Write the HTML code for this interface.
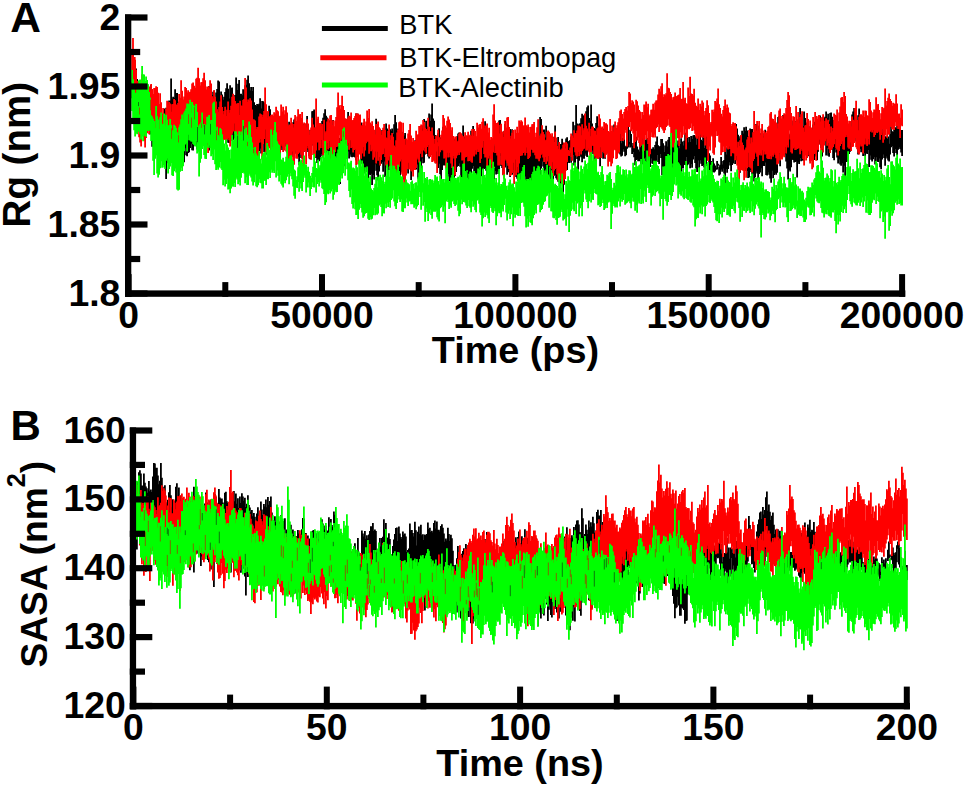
<!DOCTYPE html>
<html><head><meta charset="utf-8"><title>Rg and SASA</title>
<style>html,body{margin:0;padding:0;background:#fff}svg{display:block}</style>
</head><body>
<svg width="966" height="788" viewBox="0 0 966 788">
<rect width="966" height="788" fill="#fff"/>
<g fill="none" stroke-width="1.80" stroke-linecap="butt">
<path stroke="#000" d="M132.1 81.6V98.3M133.1 62.4V89.2M134.1 76.5V90.6M135.1 73.7V94.4M136.1 68.5V98.5M137.1 79.1V105.5M138.1 81.5V108.9M139.1 87.8V122.6M140.1 94V123.2M141.1 86.6V121.6M142.1 94.9V130M143.1 86.7V129.9M144.1 86.1V118.3M145.1 86.1V126.6M146.1 89.4V127.1M147.1 93.4V129.4M148.1 89.8V129.4M149.1 91.3V129.8M150.1 92V134.6M151.1 85.1V134.2M152.1 96.6V146.8M153.1 101.4V139.6M154.1 103.8V149.6M155.1 102.6V148.4M156.1 100.7V145.8M157.1 96.8V155.3M158.1 111.5V154.7M159.1 111.1V161.6M160.1 106.6V150.3M161.1 112.2V157.6M162.1 116.2V150M163.1 113.8V164.1M164.1 108.6V156.6M165.1 110.5V166.3M166.1 107.8V179M167.1 114V159.4M168.1 108.3V163.3M169.1 100.5V160.8M170.1 100.4V160.8M171.1 78.6V153.7M172.1 98.4V153.3M173.1 96.8V159.6M174.1 97.7V166.3M175.1 89.2V160.4M176.1 93V149.6M177.1 93V154.4M178.1 107.5V167.8M179.1 101.6V157M180.1 110.4V164.3M181.1 101.3V163.2M182.1 106.5V157.2M183.1 115.3V158.2M184.1 112.3V162.3M185.1 104.2V148.3M186.1 105.8V155.3M187.1 116.7V156.3M188.1 112.8V152.9M189.1 109.3V152.2M190.1 95.9V148M191.1 95.5V143.7M192.1 109.6V150.2M193.1 103.6V150.4M194.1 101.1V145.6M195.1 100.6V144.8M196.1 97.9V144.4M197.1 94.5V149.4M198.1 86.8V147.1M199.1 101.8V138.8M200.1 96.9V138.4M201.1 90.8V143.4M202.1 94V137.7M203.1 89.3V143.3M204.1 86V135.4M205.1 94.1V135.5M206.1 97.6V140.6M207.1 90.8V145.3M208.1 97.5V143.8M209.1 85.9V150.6M210.1 86.3V135.5M211.1 84.3V144.8M212.1 95V145.5M213.1 91.7V139.9M214.1 90.5V138.8M215.1 97.5V145.4M216.1 92.5V138.6M217.1 89V135.4M218.1 80.5V128.5M219.1 81.5V130.5M220.1 98.7V133.4M221.1 91.5V135.8M222.1 94.4V133.7M223.1 99.7V143.4M224.1 96.7V138.4M225.1 92.1V136M226.1 88.2V143.7M227.1 83.3V127.2M228.1 88.7V142.8M229.1 98.6V143M230.1 85.2V135.1M231.1 88V135.7M232.1 87.6V132.8M233.1 99V140.3M234.1 97.1V138.5M235.1 95.1V138.3M236.1 77.6V133.2M237.1 90V148.8M238.1 83.7V143.9M239.1 80.1V145.9M240.1 93.7V152M241.1 93.8V137.8M242.1 95.3V151.7M243.1 89.2V146.9M244.1 89.7V146.5M245.1 85.3V144.1M246.1 84.7V138.7M247.1 79.8V140.1M248.1 75.6V139M249.1 83.3V153.9M250.1 90.5V152.5M251.1 87.1V156.1M252.1 91.1V149.4M253.1 86.9V152.7M254.1 102.2V150.2M255.1 105V148.3M256.1 106.1V149.5M257.1 103.9V145.2M258.1 104.6V147.5M259.1 103.8V151.1M260.1 98.3V148.6M261.1 108.5V153.4M262.1 101V145M263.1 101.2V143.8M264.1 102.5V152.2M265.1 105.3V143.2M266.1 115.1V154.8M267.1 120.5V152M268.1 111.4V145.2M269.1 105.7V143.5M270.1 109.2V138.6M271.1 122.1V153.8M272.1 120.3V145.7M273.1 120.9V149.4M274.1 117.6V157.7M275.1 121.4V151.4M276.1 125V161.1M277.1 129.2V160.2M278.1 127V152.2M279.1 124.9V152.9M280.1 122.6V155.6M281.1 123.6V147.3M282.1 120.4V149.9M283.1 121.2V144.5M284.1 114.7V142.2M285.1 116.6V141.9M286.1 120.4V146.4M287.1 114.9V151.3M288.1 129V154.6M289.1 121.7V155.7M290.1 126V153.9M291.1 123.2V153.4M292.1 125V154.2M293.1 122.3V156.8M294.1 119.4V150.6M295.1 118.4V144.6M296.1 122.7V153.8M297.1 131.2V156.6M298.1 123.8V156.8M299.1 128.8V164.9M300.1 126.9V150.2M301.1 123.2V158.1M302.1 128V158.5M303.1 126.6V151.7M304.1 123.8V151.7M305.1 126.7V141.3M306.1 130.9V151.6M307.1 115.9V149.4M308.1 129.6V152.1M309.1 134.4V156.2M310.1 129.7V159.2M311.1 130.9V148.7M312.1 111.2V144.8M313.1 111V145.7M314.1 109.4V140.8M315.1 131.1V156.2M316.1 129.1V158.1M317.1 133.8V163M318.1 138.9V159.4M319.1 139.6V161.2M320.1 126.4V159.6M321.1 125V154.2M322.1 121.1V156.4M323.1 117.7V153.3M324.1 113.2V148M325.1 109.3V142.8M326.1 115.7V155.7M327.1 117.6V158M328.1 120.9V156.1M329.1 120.2V161.6M330.1 126.5V157.9M331.1 126.3V162.3M332.1 127.8V156.8M333.1 120V158.3M334.1 136.9V160.2M335.1 139.2V160.9M336.1 136.9V164.5M337.1 126.1V159.7M338.1 131.4V163.7M339.1 138V177.5M340.1 141.6V184M341.1 136.7V168.1M342.1 136.6V170.2M343.1 119.1V154.2M344.1 125.7V158.8M345.1 135V166.2M346.1 135.4V156.9M347.1 124.9V149.4M348.1 112.1V151.6M349.1 127V158.4M350.1 132.4V154.5M351.1 128.7V156.7M352.1 120.7V157.2M353.1 133.2V156.5M354.1 123.4V156.9M355.1 124.1V157.5M356.1 113.4V160.3M357.1 113.4V150.3M358.1 118.3V152.8M359.1 116.9V152.2M360.1 114.9V147.9M361.1 122.6V163.8M362.1 125V161.2M363.1 125.2V177.6M364.1 139.3V171.1M365.1 133.9V173.6M366.1 137.2V168.5M367.1 125.9V172.1M368.1 141.9V181.6M369.1 134.8V174.2M370.1 135.2V175.3M371.1 135.1V173.8M372.1 141.9V184.9M373.1 138.6V174.9M374.1 133.9V179.6M375.1 139.3V164.3M376.1 118.7V170.7M377.1 147.5V175.3M378.1 144.4V180.6M379.1 129.4V171.5M380.1 129.7V165.6M381.1 130.3V163.7M382.1 130.2V162.1M383.1 130.1V171.8M384.1 132.7V161.6M385.1 130.4V176.9M386.1 123.4V159.9M387.1 128.5V157.3M388.1 130.3V166.8M389.1 134.3V169.9M390.1 129.3V167.9M391.1 130.8V170.2M392.1 128.6V174.2M393.1 134V181.6M394.1 124.3V170.2M395.1 115V161M396.1 122.2V167.2M397.1 131.3V178.7M398.1 128.6V182.3M399.1 131.5V173.7M400.1 130.1V185.3M401.1 130.4V171.5M402.1 141.2V172.6M403.1 131.7V179.6M404.1 135.6V171.2M405.1 133.1V174.3M406.1 141.9V173.8M407.1 144.4V165.3M408.1 144.5V173.4M409.1 140.5V163.9M410.1 141.4V165.8M411.1 144.8V179.9M412.1 147.2V168.4M413.1 150V170.6M414.1 143.6V166.8M415.1 140.3V165.4M416.1 139.9V169.5M417.1 144.1V164.5M418.1 139V178.7M419.1 143.2V167.3M420.1 147.3V173.5M421.1 138.4V172.1M422.1 128.5V158.4M423.1 125.3V163.3M424.1 119V162.7M425.1 128.6V154.4M426.1 120.8V150.5M427.1 126.5V153.9M428.1 129.8V156.5M429.1 113.5V158.6M430.1 121V156.8M431.1 114.4V155M432.1 103.6V154.8M433.1 118.5V154.1M434.1 120.7V153.9M435.1 135.1V160.7M436.1 135.5V163.5M437.1 140.4V159.2M438.1 133.3V168M439.1 128.2V163.7M440.1 137.3V174.2M441.1 146.6V181M442.1 137.4V169.9M443.1 126.8V165.2M444.1 130.3V165.4M445.1 129.3V160.6M446.1 128.3V165.5M447.1 137.9V172.9M448.1 145V174.1M449.1 147.8V181.3M450.1 148V180.8M451.1 147.2V184.3M452.1 151V173.7M453.1 142.6V179.6M454.1 140.6V177.7M455.1 138.4V176M456.1 144.4V172.1M457.1 136.3V166.7M458.1 133.6V166.1M459.1 132.5V163.6M460.1 135.9V166.7M461.1 142.4V179.2M462.1 138V180.1M463.1 125.6V178.2M464.1 136.6V178.2M465.1 139.5V180.9M466.1 148.4V194M467.1 149V179.6M468.1 144.5V189M469.1 143.6V188.1M470.1 135.4V178M471.1 130.8V173.3M472.1 136.8V168.7M473.1 126.1V165.9M474.1 136.1V171.6M475.1 142.3V174M476.1 146.8V191M477.1 140.4V182.8M478.1 149.3V182.3M479.1 148.8V178.6M480.1 145.4V172.8M481.1 138.3V176.3M482.1 139.4V168.9M483.1 133.7V169.7M484.1 127.6V169M485.1 121.3V167.9M486.1 142.4V170.8M487.1 134.2V198.2M488.1 143.7V175.6M489.1 144.5V179.2M490.1 145V182.9M491.1 143.2V181.7M492.1 146.8V191.2M493.1 149.1V178.9M494.1 146.3V180.4M495.1 132.3V170.9M496.1 128.7V174.4M497.1 125.7V171.4M498.1 131.9V174.1M499.1 120.5V170.8M500.1 120V156.1M501.1 127.5V166.1M502.1 131.7V168.1M503.1 134.1V174.7M504.1 131.1V165.8M505.1 124V167.5M506.1 128.5V163M507.1 130.4V174.7M508.1 139.8V172.2M509.1 135.9V170M510.1 129.1V176.9M511.1 136.6V169.3M512.1 129.3V174.7M513.1 133.8V170.1M514.1 139.4V173.2M515.1 139.2V171.2M516.1 148.9V177.1M517.1 145.4V178.7M518.1 151.4V181.1M519.1 144.5V186.2M520.1 151.2V183M521.1 146.6V191.1M522.1 138.3V176.7M523.1 137V180.3M524.1 144.8V186.7M525.1 147.7V176.5M526.1 144.7V193.3M527.1 142.4V180.6M528.1 147.6V180.2M529.1 147.7V180M530.1 145.1V197.1M531.1 148.3V196M532.1 143.5V172.3M533.1 137.8V187.1M534.1 147.6V187M535.1 145.9V184.8M536.1 143.4V182.9M537.1 140.3V182.8M538.1 141.1V178.7M539.1 141.8V178.8M540.1 117.1V180.5M541.1 118.9V168.4M542.1 137.1V161.5M543.1 129.5V166.5M544.1 129.5V176.3M545.1 137.6V169.2M546.1 125.7V171.2M547.1 139.5V177M548.1 140.1V178.8M549.1 140.9V181.7M550.1 142.4V179.8M551.1 142.5V181.7M552.1 147.3V179.1M553.1 144.5V184.9M554.1 136.7V175.8M555.1 125.5V175.1M556.1 140.5V178.3M557.1 145.1V179.8M558.1 137.1V181.7M559.1 144.6V182.1M560.1 144V185.8M561.1 143.9V175.7M562.1 138.7V180.3M563.1 142.7V201.9M564.1 152.5V184.7M565.1 146.6V174.7M566.1 138.6V166.8M567.1 137.3V170.1M568.1 141.5V162.5M569.1 141.1V163M570.1 140.1V156.9M571.1 136.6V162.8M572.1 136.1V155.8M573.1 121.7V154.9M574.1 133.8V165.4M575.1 125.2V164.4M576.1 105.1V155.4M577.1 123.4V158.9M578.1 125.4V172.1M579.1 123.8V160.7M580.1 123.3V155.7M581.1 118.2V157.2M582.1 113.7V162.3M583.1 115.8V158.6M584.1 115.2V158.8M585.1 114V153.6M586.1 111.2V155.7M587.1 107.3V156.9M588.1 105.4V146.5M589.1 117.9V151M590.1 120.8V149.7M591.1 104.4V149.8M592.1 123.5V150.5M593.1 128.9V154.1M594.1 128V153M595.1 129V170.6M596.1 123V155.2M597.1 116.2V145M598.1 130.7V158.3M599.1 125.8V157.2M600.1 137.6V166.2M601.1 128.7V157.8M602.1 127.7V152.1M603.1 128.4V158.8M604.1 143.2V158.3M605.1 143.5V158.7M606.1 129.8V154.4M607.1 136.8V144.5M608.1 142V153.6M609.1 138.2V145.6M610.1 140.3V155.3M611.1 144.9V146.9M612.1 136.1V157.4M613.1 134.4V142.3M614.1 124.4V144.4M615.1 135.9V143.7M616.1 132.7V139.1M617.1 130.1V151.9M618.1 142.3V150.2M619.1 128.8V150.7M620.1 132.1V154.4M621.1 143.2V156.6M622.1 137.5V155.7M623.1 141.5V149.3M624.1 134.4V151.8M625.1 146.7V156.2M626.1 145.7V155.3M627.1 131.1V148.8M628.1 126.1V147.4M629.1 141.9V144.6M630.1 129.7V147.6M631.1 133.9V146.8M632.1 145.7V153.9M633.1 143.1V152.1M634.1 144.1V157.3M635.1 140.4V165.3M636.1 136.7V159.9M637.1 146.4V159.5M638.1 149.5V161.2M639.1 151.5V161.2M640.1 138.4V160.8M641.1 145.7V164.8M642.1 144.4V164.3M643.1 134V148.8M644.1 137.4V163.6M645.1 139.4V157.4M646.1 140.2V166.6M647.1 138.1V151.6M648.1 142.7V155.8M649.1 143.6V167.3M650.1 140.9V166.9M651.1 148.8V158.6M652.1 148.9V163.4M653.1 147.3V163.9M654.1 149.2V186.5M655.1 144.9V165.1M656.1 141.4V161.1M657.1 136.5V154.9M658.1 145.2V162.1M659.1 147V163.9M660.1 146V154.1M661.1 139V157.9M662.1 139V175.3M663.1 143.2V169.7M664.1 152.1V171.2M665.1 145.5V160M666.1 141.3V174.1M667.1 146.4V173.5M668.1 139.8V166.4M669.1 137V169.1M670.1 145.1V167.3M671.1 141.9V165.2M672.1 145.6V167.4M673.1 145.8V173.1M674.1 150.1V174.9M675.1 145.3V173.3M676.1 144V166.7M677.1 144.4V180.2M678.1 140.5V169M679.1 148.3V174.2M680.1 144.1V164.9M681.1 138.3V171.7M682.1 141.6V168.6M683.1 145.5V168.4M684.1 140.7V164.8M685.1 132.8V165M686.1 134.4V157.1M687.1 133V172.9M688.1 142.3V164.5M689.1 137V162.6M690.1 142.1V168.3M691.1 136V164M692.1 138.9V167.7M693.1 135.4V159.4M694.1 134.9V155.9M695.1 136V163.1M696.1 144.8V168.6M697.1 133.8V171.9M698.1 135.4V160.5M699.1 131.7V168.1M700.1 134.2V160.3M701.1 139.8V163.8M702.1 140.9V166.1M703.1 133.9V165M704.1 147.9V167.5M705.1 137.7V176.9M706.1 134.7V165.9M707.1 142.7V160.2M708.1 144.4V159.5M709.1 153.3V174.4M710.1 155.6V170.7M711.1 161V169.7M712.1 164.4V172.9M713.1 158.2V171.9M714.1 163.5V172.5M715.1 165.4V171.6M716.1 167.7V169.7M717.1 161V169.6M718.1 163.7V165.7M719.1 166.6V175.6M720.1 164.7V174.6M721.1 156.9V169.4M722.1 164.6V171.8M723.1 161.1V168.6M724.1 160V173.6M725.1 151.7V183.9M726.1 154.6V168.9M727.1 147.2V172.8M728.1 143.7V169.1M729.1 141.9V162.3M730.1 146.7V165.5M731.1 147.7V171.2M732.1 137.3V165.1M733.1 140.2V163.5M734.1 138.4V159.5M735.1 125.8V164.1M736.1 124.1V160.6M737.1 128.6V158.1M738.1 134.7V159.6M739.1 138.4V167.6M740.1 136.2V172.8M741.1 135.2V164.9M742.1 130.7V165.4M743.1 133.6V169.1M744.1 127.3V166.1M745.1 131.1V164.8M746.1 126.8V171M747.1 130.6V170.9M748.1 140.2V177.9M749.1 136V177.5M750.1 128.5V170.1M751.1 128.9V172.1M752.1 129V174.2M753.1 132V173.8M754.1 132.7V181.4M755.1 127.8V177.3M756.1 124.1V171.6M757.1 126.8V173.4M758.1 136.6V179.4M759.1 125.6V174M760.1 133.3V172.4M761.1 135.6V168.3M762.1 130.6V176.2M763.1 136.5V165.7M764.1 133.2V166M765.1 129.8V162.4M766.1 137.9V175M767.1 136.5V175.4M768.1 133.2V172.2M769.1 137V174.8M770.1 126.4V178.5M771.1 131.9V182.8M772.1 129.8V170.7M773.1 132.5V178.2M774.1 135.2V174.9M775.1 131.4V173.2M776.1 130.4V174.7M777.1 132.2V172.7M778.1 116.9V160.6M779.1 116.1V154M780.1 126.4V166.2M781.1 129.7V150.3M782.1 128V151.8M783.1 115V145.9M784.1 121.2V142.9M785.1 116.8V154.3M786.1 118.1V161.4M787.1 132V168.6M788.1 141.5V179.5M789.1 135.3V170.1M790.1 133.8V171.5M791.1 120V167.2M792.1 131.1V159.6M793.1 120.5V159.9M794.1 127.2V162.4M795.1 121.5V162M796.1 121.1V161.6M797.1 130.6V177.4M798.1 123.9V162.6M799.1 128.3V164.1M800.1 107.9V157.9M801.1 119.5V161.2M802.1 121.2V160.4M803.1 126.2V160.8M804.1 111.4V158.2M805.1 118.1V150.6M806.1 122.4V152.1M807.1 124.9V147.4M808.1 121.9V156.2M809.1 128.3V149.8M810.1 126.3V161.3M811.1 130.2V147.4M812.1 132.3V146.6M813.1 124.6V157.5M814.1 121.8V159.9M815.1 133.9V156.5M816.1 129.8V153.4M817.1 130V160.3M818.1 124V151.7M819.1 115.2V144M820.1 115.6V144.5M821.1 117.5V148M822.1 125V156.6M823.1 116.7V149.1M824.1 117.8V141.7M825.1 116.8V141.6M826.1 111.4V155.4M827.1 117.8V148.1M828.1 113.7V155.7M829.1 121.4V156.7M830.1 113V152M831.1 112.4V149.8M832.1 116.8V149.2M833.1 119.9V157.9M834.1 120.1V160.3M835.1 122V148.9M836.1 118.3V152.6M837.1 119.3V157.6M838.1 138.7V163.5M839.1 121.2V159.4M840.1 135.2V164.6M841.1 131.4V165.7M842.1 139.9V163.2M843.1 140.1V172.4M844.1 136.1V165.8M845.1 122.4V178.8M846.1 124.3V161.9M847.1 123.9V161.6M848.1 134.8V156.9M849.1 131.6V154M850.1 131.6V151.8M851.1 126.9V147.4M852.1 114.5V144.5M853.1 111.5V141.6M854.1 107.9V138.1M855.1 115.6V135.8M856.1 118.1V141.6M857.1 120V145.7M858.1 115.2V154.6M859.1 108.5V145.6M860.1 120.7V148.9M861.1 120.5V152.2M862.1 120V150.6M863.1 123.5V155.9M864.1 129.9V153M865.1 117V156.1M866.1 116.1V153.1M867.1 127.5V154.1M868.1 125V150.1M869.1 124.5V167M870.1 122.5V155.5M871.1 130.5V159.8M872.1 123.4V161.5M873.1 119.4V159.3M874.1 135V156.9M875.1 121.9V164.6M876.1 124.9V157.2M877.1 132.1V161.6M878.1 125.3V162.1M879.1 134.4V158.6M880.1 129.5V167.2M881.1 129.3V169.2M882.1 132.8V159.6M883.1 128.9V154.6M884.1 128.9V158M885.1 136.3V165.7M886.1 136.5V156.6M887.1 139.1V158.4M888.1 136.6V160.5M889.1 143.7V161.6M890.1 134.1V154.5M891.1 124.9V147.2M892.1 131.3V145.9M893.1 131.9V152.9M894.1 129.2V156.4M895.1 127.3V149.1M896.1 128.6V153.1M897.1 124.8V155.2M898.1 125.5V149.7M899.1 124.7V147.5M900.1 128.1V149M901.1 130.1V152.5M902.1 130.1V156.1"/>
<path stroke="#f00" d="M132.1 50.3V81.4M133.1 53.4V86.4M134.1 67V103.4M135.1 59.7V110.8M136.1 69.8V121.1M137.1 81.1V124.6M138.1 89.4V126.8M139.1 82V137.3M140.1 88.5V142.6M141.1 89.2V146.6M142.1 74.3V134.6M143.1 84.3V133.7M144.1 76.8V140.8M145.1 82.3V147.5M146.1 81.6V138.1M147.1 90V133.2M148.1 84.7V130.9M149.1 86.5V134.3M150.1 90.4V125.9M151.1 84V128.4M152.1 89.1V135.6M153.1 94.1V138.4M154.1 88V128.5M155.1 87.9V129.5M156.1 86.2V131.8M157.1 86.9V130.9M158.1 92.7V125.8M159.1 103.9V138M160.1 93.2V136.2M161.1 102.2V154M162.1 114.3V154M163.1 107.9V147.1M164.1 119.9V159.1M165.1 116.9V146.2M166.1 108.5V143.8M167.1 100.7V140.7M168.1 104.4V146.5M169.1 101.9V143.3M170.1 103.4V138.2M171.1 111.8V140.9M172.1 104.3V139.5M173.1 104V140.2M174.1 98.9V142.3M175.1 100.2V135.8M176.1 104.5V137.8M177.1 104.8V140.4M178.1 103.1V143.5M179.1 94.1V132.8M180.1 97.8V136.9M181.1 80.3V131.9M182.1 90.7V137.3M183.1 99.6V134.5M184.1 96.4V131.6M185.1 86.9V132M186.1 87.9V137M187.1 92.5V131.4M188.1 90.3V130.9M189.1 92.2V127.3M190.1 91.7V133.8M191.1 89.2V129.6M192.1 83.6V129.3M193.1 82.4V130.6M194.1 85.8V125.9M195.1 87.7V131.5M196.1 78.8V120.5M197.1 77.8V125.2M198.1 67.8V135M199.1 78.3V126M200.1 85.4V129.4M201.1 82.2V129M202.1 82V125.2M203.1 78.3V118.5M204.1 72.8V133.6M205.1 80.3V138M206.1 89.6V136.1M207.1 86.4V143M208.1 86.5V153M209.1 88.2V129.8M210.1 80.3V130.5M211.1 83.5V126.1M212.1 96.2V129.9M213.1 98.6V134M214.1 90.2V134.9M215.1 96.7V138.9M216.1 101.5V143.4M217.1 109.3V136.5M218.1 111.8V135.4M219.1 107V157M220.1 101.5V140.4M221.1 95.3V145.2M222.1 107.1V142.3M223.1 114.3V149.1M224.1 111.1V139.4M225.1 106.8V140.1M226.1 116V141.9M227.1 109.7V139.5M228.1 101.4V137.9M229.1 112.7V140.3M230.1 110V146.5M231.1 105.8V141.1M232.1 96.7V133.5M233.1 93.8V131.6M234.1 96.4V123.5M235.1 100.9V134M236.1 103.6V135.4M237.1 103.4V139.6M238.1 103.1V145.3M239.1 114.9V143M240.1 100.7V134.1M241.1 105.4V139.7M242.1 105.7V137.8M243.1 100.1V134.3M244.1 99.1V142.7M245.1 77.9V128.4M246.1 87.5V133.3M247.1 101.9V148.4M248.1 99.6V137.8M249.1 100.6V146.1M250.1 98.2V140.6M251.1 100.6V144.9M252.1 109.4V148.5M253.1 119.2V154.2M254.1 119.5V159.2M255.1 120.4V159.8M256.1 129.1V171M257.1 127.1V159.5M258.1 127.1V159.7M259.1 116.5V142.8M260.1 113.4V138.9M261.1 114.3V142.4M262.1 117.1V159.4M263.1 114.7V144.1M264.1 111.1V139.1M265.1 87.4V129.4M266.1 104.3V152.8M267.1 117.9V142.5M268.1 111.1V148.6M269.1 116.3V148.6M270.1 116.4V140.1M271.1 114.9V151.5M272.1 114.6V155.8M273.1 115.8V152.7M274.1 112.3V145.7M275.1 113.6V155.3M276.1 106.8V151M277.1 110.2V145.8M278.1 111.2V150.5M279.1 116.3V150.1M280.1 115.7V155.1M281.1 104.4V144.5M282.1 111.5V146.5M283.1 106.8V152.1M284.1 114.4V150.5M285.1 110.3V143.1M286.1 106.2V151.4M287.1 112.4V153.2M288.1 125.9V163.7M289.1 124.6V159.5M290.1 124.5V160.9M291.1 117.8V161.2M292.1 123.3V151.6M293.1 127.5V165.7M294.1 123.9V164.7M295.1 114.9V150.6M296.1 121V158.5M297.1 116.4V158.8M298.1 109.2V154M299.1 114.7V152.7M300.1 113.9V150.5M301.1 118.1V154.8M302.1 111.9V158.4M303.1 125.2V167.2M304.1 122.6V151.5M305.1 123.2V150.5M306.1 127.6V164.3M307.1 119.2V145.9M308.1 123.5V148.5M309.1 134.5V158.5M310.1 130.3V158M311.1 127.5V159.8M312.1 117.8V144.4M313.1 124.5V154.9M314.1 127.8V155.1M315.1 127.3V156.7M316.1 98.6V150.4M317.1 118.7V142.6M318.1 116.8V142.2M319.1 123.3V150.2M320.1 123V148.3M321.1 125.5V140M322.1 123.9V148.1M323.1 140V158.2M324.1 119.7V152.9M325.1 132.4V149.5M326.1 131.3V151.1M327.1 121.4V143.1M328.1 118.6V149.6M329.1 122.4V141.1M330.1 115.4V147.9M331.1 115V158.6M332.1 125.1V169.2M333.1 120.5V157.7M334.1 126.3V157.8M335.1 120.4V151.9M336.1 116.9V146.9M337.1 107.2V146.7M338.1 92.4V146.2M339.1 105.2V135.2M340.1 108.8V149.3M341.1 105V138.7M342.1 95.8V140.3M343.1 106.1V144.7M344.1 110V141.6M345.1 118.2V141.5M346.1 118.8V154M347.1 119.2V145.3M348.1 117.6V143M349.1 115.8V149.7M350.1 116.5V140.2M351.1 112.4V147.9M352.1 120.5V147.2M353.1 120V152.6M354.1 118.1V150.1M355.1 116.1V149M356.1 113.2V165.3M357.1 114V156.9M358.1 113.6V164.4M359.1 115.4V154.6M360.1 114.5V154.6M361.1 125.5V158.8M362.1 125.2V153.6M363.1 122.5V146.9M364.1 118.7V156.5M365.1 125.5V150.5M366.1 121.5V143.3M367.1 110.4V141.7M368.1 117.9V141.2M369.1 108.9V153.8M370.1 122.4V144.7M371.1 124.3V151.3M372.1 121.2V149.8M373.1 125.9V159.8M374.1 129.8V157.5M375.1 134.4V151.5M376.1 124.1V163.4M377.1 124V151.7M378.1 121.4V160.7M379.1 127.3V157.1M380.1 128.4V165.5M381.1 134.9V159.9M382.1 131.1V154.5M383.1 127.7V154M384.1 124.1V148.5M385.1 130V156.9M386.1 137.4V165.4M387.1 138.3V167.7M388.1 131V160.4M389.1 124.4V156.4M390.1 139.8V168.6M391.1 135.3V169.8M392.1 133V171.8M393.1 136.7V175.5M394.1 145.4V179.1M395.1 146.7V179.6M396.1 140.3V166.2M397.1 132.5V172.2M398.1 129.7V165M399.1 122.2V166.8M400.1 121.4V161.5M401.1 122.3V159.5M402.1 133.4V174.4M403.1 122.8V177.4M404.1 138.9V197.8M405.1 144.8V192.3M406.1 138.6V175.5M407.1 139.7V168.9M408.1 133.6V162.8M409.1 129.9V169.4M410.1 124.1V168.8M411.1 135.6V170.7M412.1 141.8V171.4M413.1 138.1V176.4M414.1 141.1V169.8M415.1 141V170.1M416.1 130.7V167.9M417.1 134.9V157.7M418.1 134.2V159.6M419.1 125.9V162.6M420.1 126V153.8M421.1 124.5V150.7M422.1 130.8V157.2M423.1 120V150.5M424.1 121.9V147.7M425.1 127.8V151.6M426.1 129V153.6M427.1 130.9V147.1M428.1 117.7V145.1M429.1 126.7V156.2M430.1 131.8V156.9M431.1 130.9V154.7M432.1 127.6V161.9M433.1 135.5V160.3M434.1 143.8V161.4M435.1 139V163.3M436.1 135.8V151.4M437.1 142.2V172.9M438.1 129.8V146.3M439.1 137.3V156.2M440.1 139.1V152.2M441.1 134.7V150.2M442.1 130.6V149.8M443.1 115V150.5M444.1 118.3V158.6M445.1 125.6V157.6M446.1 127.4V168.4M447.1 120.8V152.7M448.1 116.6V157.5M449.1 119.4V153M450.1 123.1V157.2M451.1 130.3V163.5M452.1 127.3V167.9M453.1 136.1V156.1M454.1 140.6V158.4M455.1 136.6V175.6M456.1 136.5V158.3M457.1 141.9V155.6M458.1 140.7V152.7M459.1 133.7V154.9M460.1 132.3V152.1M461.1 133.3V152.5M462.1 135.3V160.4M463.1 136.3V159.9M464.1 138.5V165.3M465.1 132.3V157.4M466.1 135.3V157M467.1 135.5V156.5M468.1 131.7V161.2M469.1 136.4V161M470.1 134.8V159.9M471.1 136V161.8M472.1 129V162.7M473.1 135.8V155.5M474.1 129.1V156.4M475.1 130.9V150.2M476.1 136.3V154.4M477.1 122.7V149.6M478.1 127.6V151.9M479.1 124.7V151.5M480.1 124.1V163M481.1 128.7V158.7M482.1 121.8V147.8M483.1 118.3V141.1M484.1 127.7V154.1M485.1 125.5V157.6M486.1 125.6V157.2M487.1 123.5V167.4M488.1 132.5V158.6M489.1 127.8V155.7M490.1 139.8V166.5M491.1 137.1V163.9M492.1 138.3V176.9M493.1 114.4V152.4M494.1 104.2V144.6M495.1 120.6V153.1M496.1 123V153M497.1 123.1V155.5M498.1 122.2V165.6M499.1 133.4V165.4M500.1 125.1V153.3M501.1 123.7V164.5M502.1 131.7V165.2M503.1 137.1V175.2M504.1 130.7V178.7M505.1 121V159.2M506.1 127.4V160.6M507.1 117.6V163.3M508.1 116.9V165.7M509.1 126.9V168.9M510.1 138.5V176.1M511.1 135.7V175.2M512.1 132.7V173M513.1 130.1V162.8M514.1 138.8V184.1M515.1 129.6V159.5M516.1 133.1V175.2M517.1 126.7V167.1M518.1 132.8V172.8M519.1 120.4V163.6M520.1 122V156.1M521.1 120.3V155.8M522.1 121.6V155.6M523.1 125.7V153M524.1 125.3V152.2M525.1 117.4V155.4M526.1 125.2V147.6M527.1 126.5V153M528.1 124.4V158.9M529.1 132.4V157.9M530.1 127.1V156.4M531.1 126.8V148.9M532.1 124.3V149.9M533.1 123.9V152.8M534.1 122.1V152.4M535.1 136.9V155.3M536.1 132.8V158.8M537.1 127.3V158.3M538.1 119.2V159.3M539.1 138.4V161.3M540.1 135.5V158.3M541.1 133.4V154.7M542.1 125.3V153.7M543.1 132V157.5M544.1 134.2V162M545.1 140.5V156.9M546.1 139.7V164.1M547.1 131.7V161.4M548.1 130.4V155.9M549.1 131.7V165.5M550.1 133.4V166.1M551.1 135.5V169.3M552.1 133.3V162.3M553.1 137.2V176.1M554.1 142.1V170.5M555.1 131.6V168.9M556.1 137.5V168M557.1 145.6V174.6M558.1 149.1V180.2M559.1 142V181.3M560.1 149.4V179M561.1 150.1V181.4M562.1 148.6V183.9M563.1 144.7V184.3M564.1 142.6V179.8M565.1 148.5V179.1M566.1 142.1V170.7M567.1 143.4V161.9M568.1 150.1V155.6M569.1 151.1V156M570.1 147.6V152.8M571.1 133.6V157M572.1 135.4V160.8M573.1 137.8V147.3M574.1 130.3V147.3M575.1 133.4V152.3M576.1 132.9V155.4M577.1 130.4V156.5M578.1 125.6V151.9M579.1 125.5V155.9M580.1 126.4V150.9M581.1 135.3V154.5M582.1 124.2V151M583.1 130.2V149.6M584.1 128.3V148.8M585.1 113.6V139.6M586.1 125.7V150.5M587.1 128.6V150.5M588.1 131.4V148.6M589.1 122.8V152.2M590.1 136.2V155.8M591.1 128.8V160.4M592.1 126.6V145.2M593.1 126.7V145.9M594.1 130.5V156.5M595.1 130.8V156.1M596.1 134.7V167.9M597.1 128.5V158.4M598.1 127.6V159.1M599.1 114.3V157.4M600.1 118.5V147.2M601.1 128.6V157.9M602.1 126.5V152M603.1 129.9V151.4M604.1 122V153.3M605.1 123.2V157.8M606.1 123.2V154.4M607.1 124.6V153.2M608.1 131.1V166.6M609.1 132.1V161.7M610.1 119.1V161.8M611.1 131V166.3M612.1 125.6V163.4M613.1 131.6V158.3M614.1 127.2V149.4M615.1 121.5V150.2M616.1 127.9V159M617.1 125.3V158.2M618.1 122.2V153.4M619.1 118.2V152.2M620.1 110.7V134.1M621.1 109.5V140.9M622.1 114.1V136.7M623.1 118.4V141.1M624.1 111.9V139.7M625.1 108.9V130.1M626.1 107.1V132.7M627.1 110.4V146.5M628.1 105.9V126.9M629.1 92V127.1M630.1 93.5V122M631.1 102.9V131.2M632.1 100.2V129.4M633.1 101.4V133.5M634.1 104.6V148.3M635.1 112.5V142.1M636.1 99.8V130.9M637.1 101.2V140.4M638.1 105.6V137.6M639.1 110.1V143.1M640.1 111.4V147.2M641.1 118.8V145.4M642.1 111.9V138.5M643.1 114.9V151.5M644.1 104.6V150.8M645.1 104.4V135M646.1 101.6V139.2M647.1 107.3V131.2M648.1 103.7V144M649.1 116V156.7M650.1 114.6V154.2M651.1 109.7V132.5M652.1 109.5V137M653.1 103.8V137.6M654.1 109.8V134.5M655.1 102.5V137.6M656.1 100.6V128.3M657.1 100.2V127.1M658.1 94.6V124.4M659.1 88.8V132.1M660.1 91.5V127.3M661.1 86.2V127.2M662.1 83.2V128.7M663.1 97V130.5M664.1 94.3V133M665.1 95.3V130.3M666.1 93.3V127M667.1 73.3V125.7M668.1 87.7V119.3M669.1 88.2V125.5M670.1 92.1V127M671.1 93.9V149.2M672.1 99.8V146.8M673.1 97.3V147.5M674.1 96.8V145.8M675.1 92.5V139.3M676.1 96.2V137.9M677.1 95.9V137.9M678.1 95.1V138.2M679.1 94.6V146M680.1 88V132.2M681.1 99.1V137.9M682.1 98.7V137.5M683.1 82.1V126.2M684.1 99.6V134.8M685.1 97.7V129.6M686.1 103.2V149.4M687.1 104V137.9M688.1 87.4V128.6M689.1 96.1V129.3M690.1 76.7V128.1M691.1 93.4V123.5M692.1 93.9V130.9M693.1 95.5V126.3M694.1 88.7V130.5M695.1 102.7V133.7M696.1 105.7V137.5M697.1 106.7V138.8M698.1 98.4V136.3M699.1 110V149.1M700.1 103.8V134.1M701.1 106.6V137.4M702.1 100.6V137.2M703.1 102.5V135.6M704.1 115.3V138M705.1 111.1V145.5M706.1 108.1V136.8M707.1 100.2V149.1M708.1 105.3V161.1M709.1 113.1V146.5M710.1 123.5V150.4M711.1 121.9V135.6M712.1 109.7V136.6M713.1 111.9V153.2M714.1 109.5V154.8M715.1 101.1V147.5M716.1 102.5V131.3M717.1 98.5V136M718.1 88.4V135.3M719.1 104.2V141.7M720.1 108V142.7M721.1 113.8V154.9M722.1 116.5V152.2M723.1 110.1V146.6M724.1 106V152.1M725.1 99.6V152M726.1 108.1V146.4M727.1 104.4V148.6M728.1 107.4V149.4M729.1 112.6V146.5M730.1 113.2V149.1M731.1 126V156.3M732.1 124.1V153.1M733.1 122.3V153.3M734.1 123.5V153.5M735.1 122.9V160.2M736.1 126.3V156M737.1 147.4V165.5M738.1 141.7V169.9M739.1 146V181.4M740.1 140.3V171.6M741.1 135V170M742.1 142.5V170.3M743.1 145V170.7M744.1 150.4V180.3M745.1 149.6V167.4M746.1 147.6V177.7M747.1 139.4V168.3M748.1 136.9V152.7M749.1 130.1V167M750.1 143.6V167.5M751.1 137.4V168.4M752.1 142.2V172.5M753.1 132.2V160.9M754.1 111.1V158.9M755.1 125V152M756.1 130.5V153.4M757.1 120.9V156.7M758.1 130.6V166.1M759.1 121V155.2M760.1 134.4V153.6M761.1 128.5V155.4M762.1 124.1V150.2M763.1 137.6V161M764.1 130.6V151.6M765.1 132.2V154.6M766.1 132.9V154M767.1 130.8V158.2M768.1 127V158.9M769.1 125.8V159M770.1 113.4V156.1M771.1 111.9V159.2M772.1 118.6V155.1M773.1 118.9V156.7M774.1 121.3V152.8M775.1 114.6V154.8M776.1 122.6V158.3M777.1 128.4V164.5M778.1 123.4V163.7M779.1 110.5V153.3M780.1 108.6V160.4M781.1 118.5V158.7M782.1 116V159.6M783.1 118.6V155.7M784.1 113.2V157.2M785.1 114.2V146.9M786.1 108V153.5M787.1 100V145.2M788.1 91.9V147.4M789.1 95.3V130.5M790.1 107.1V139.6M791.1 113V152.2M792.1 125.6V153.4M793.1 116.2V148.5M794.1 116.7V147.4M795.1 121.9V150.1M796.1 106.1V149.7M797.1 119.3V149M798.1 111.9V148.4M799.1 123.3V147.9M800.1 117V154.2M801.1 114.3V149.1M802.1 111.3V150.7M803.1 127.5V159M804.1 131.7V165.5M805.1 125.5V155.6M806.1 125.1V160.5M807.1 112.9V157.9M808.1 118.9V151.3M809.1 127.4V155.5M810.1 120.5V163.4M811.1 127.5V161M812.1 129.7V169.2M813.1 117.1V167.6M814.1 125.3V154M815.1 112V153.6M816.1 116V160.7M817.1 118.7V149.4M818.1 116.2V150.3M819.1 115V139.7M820.1 121.4V144.5M821.1 117.4V158.5M822.1 120.5V148.9M823.1 114.2V152.5M824.1 127.8V145.5M825.1 120.7V141.4M826.1 118.3V138.7M827.1 121.2V145.8M828.1 119.8V142.9M829.1 123.9V149.3M830.1 132.7V152.9M831.1 126.4V150.1M832.1 131.2V148.8M833.1 128.1V147M834.1 113.6V144.2M835.1 114.7V139.1M836.1 115.6V148.4M837.1 109.4V149.8M838.1 122.3V155.5M839.1 112.5V150.9M840.1 106.6V146M841.1 97.8V144.1M842.1 97V141.2M843.1 101.9V149.2M844.1 92V149.7M845.1 96V137.3M846.1 114V135.2M847.1 116.5V137M848.1 123.4V147.5M849.1 120.8V148.8M850.1 120.9V142.4M851.1 126.6V150.9M852.1 116.4V146.9M853.1 119.8V146.7M854.1 120.5V142.9M855.1 108.1V137.9M856.1 100.8V147.3M857.1 120.1V149.3M858.1 130.2V152.8M859.1 116.7V154.6M860.1 114.3V144.5M861.1 114.3V146.4M862.1 115.5V145.9M863.1 110.6V153.5M864.1 117V144.6M865.1 110.5V138.4M866.1 110.7V144.5M867.1 115.3V146M868.1 115.7V139M869.1 99.2V144.5M870.1 102.1V131.8M871.1 110.5V129.9M872.1 118V132.5M873.1 112.2V130.1M874.1 109.5V137.1M875.1 109.7V135.1M876.1 97.2V132M877.1 105.2V133M878.1 103.9V130.7M879.1 109.9V132.3M880.1 119.3V139.8M881.1 113.2V135.1M882.1 107.1V128.9M883.1 108.5V142.8M884.1 107.7V139.4M885.1 88.5V135.5M886.1 105.6V129.2M887.1 100.9V137.8M888.1 97.8V134.2M889.1 93.5V134.8M890.1 99V126.5M891.1 101.1V127.1M892.1 105.8V129.4M893.1 102.8V128.7M894.1 103.4V130.1M895.1 103.8V122.3M896.1 94.2V126.3M897.1 103.4V126.1M898.1 113.9V129.1M899.1 113.4V128.9M900.1 117.7V137.9M901.1 104.2V125M902.1 109.5V126.2"/>
<path stroke="#0f0" d="M132.1 69.8V110.9M133.1 79.3V124M134.1 87.2V130.3M135.1 92.7V136.5M136.1 92.8V133.2M137.1 88.5V134.3M138.1 86.4V131.5M139.1 80.2V131.8M140.1 79.5V134M141.1 89.9V139.6M142.1 66.1V136.5M143.1 74.2V141.2M144.1 74.5V133.7M145.1 81.1V135.9M146.1 76.5V136.8M147.1 80V130.2M148.1 84.3V130.9M149.1 92V130.3M150.1 97.4V130.8M151.1 115.2V141.1M152.1 116.5V140.5M153.1 118.8V160.7M154.1 121.1V174.9M155.1 127.9V158.8M156.1 106.1V155.1M157.1 116.3V173.5M158.1 119.5V177.5M159.1 129.1V174.8M160.1 117.2V168.3M161.1 112.6V161.3M162.1 124.5V167.8M163.1 123.7V165M164.1 113.6V167.6M165.1 125.6V169.1M166.1 114.7V160.8M167.1 119.7V158.6M168.1 126V173.6M169.1 125.1V168.9M170.1 119.1V166.4M171.1 124.9V163M172.1 130.5V175.3M173.1 130.3V176.1M174.1 124.8V171.2M175.1 125.9V168.4M176.1 127.9V172.4M177.1 132.2V189.6M178.1 134.2V190.6M179.1 127.2V189.7M180.1 124.6V171.7M181.1 119.2V167.8M182.1 114.4V171.1M183.1 119.5V166.3M184.1 112.5V151.2M185.1 110.7V144.5M186.1 108.4V143.2M187.1 103.5V151.4M188.1 103.7V134.8M189.1 104.2V140.3M190.1 99.7V140.6M191.1 112.9V141.5M192.1 102V141.7M193.1 104.8V143.9M194.1 106V145.1M195.1 107V146.5M196.1 103.9V141.1M197.1 111.9V153.4M198.1 127.7V151.7M199.1 125.5V176.4M200.1 124.1V162.7M201.1 122.4V158.7M202.1 112.5V148.9M203.1 126.7V146.3M204.1 123.9V155.1M205.1 129.6V158.8M206.1 124.8V159.1M207.1 116.8V142.8M208.1 116.7V147.8M209.1 115V145.6M210.1 122.8V148.1M211.1 119.9V156.2M212.1 120V154.3M213.1 103.3V159.9M214.1 101.7V149.4M215.1 113.3V164.3M216.1 129.6V170M217.1 126.8V167.4M218.1 135.2V169.8M219.1 136.5V167.4M220.1 127.9V162.1M221.1 129.3V168.5M222.1 134.3V170.1M223.1 139.5V185.3M224.1 143.5V179.7M225.1 150.5V186.5M226.1 139.5V184M227.1 144.5V178.7M228.1 147.6V189.5M229.1 150V189M230.1 158.4V193.3M231.1 149.6V188.6M232.1 134.9V186.3M233.1 141.1V186.8M234.1 139.4V182.9M235.1 131.3V187.1M236.1 131.4V177.8M237.1 134.7V179.6M238.1 139.9V184.3M239.1 131.2V182M240.1 135V185.5M241.1 131.6V177.8M242.1 134.6V173M243.1 119.9V172.3M244.1 129.2V173.6M245.1 132.7V183.2M246.1 127.4V177.3M247.1 134.7V185.1M248.1 138V184.9M249.1 121.6V173.8M250.1 124.7V175.8M251.1 137V177.5M252.1 142.6V181.4M253.1 147.7V185.6M254.1 155.5V182.3M255.1 146.9V174.6M256.1 153.4V186.2M257.1 155.4V187.3M258.1 156.1V185.2M259.1 151.3V179.2M260.1 158.8V182.7M261.1 163.4V183.3M262.1 156V188.6M263.1 153.4V188.5M264.1 152.5V180.3M265.1 151.8V181M266.1 157.2V185M267.1 143V179.1M268.1 146.5V179.2M269.1 149.5V172.2M270.1 149.5V177.9M271.1 129.6V169.8M272.1 146.9V172.8M273.1 134.7V170.7M274.1 130.2V172.9M275.1 121.9V161.3M276.1 132.3V177.6M277.1 141.3V170.4M278.1 143.7V175.8M279.1 145.1V181.5M280.1 152.5V175.1M281.1 159.6V183.8M282.1 160.2V185.6M283.1 157.7V187.6M284.1 162V181.1M285.1 161.5V183.3M286.1 156.8V180.2M287.1 144.5V176.8M288.1 159.8V174M289.1 158.2V184.2M290.1 156V173.3M291.1 155.3V176.2M292.1 160.1V179.2M293.1 160.9V186.6M294.1 169.4V195.7M295.1 170.5V198.8M296.1 180V187.2M297.1 176.2V188M298.1 167.2V182M299.1 162.1V191.8M300.1 161.3V183.5M301.1 159.6V188.5M302.1 163.1V191.1M303.1 166.1V182.1M304.1 155.4V175.5M305.1 164.3V177.8M306.1 164.4V192.5M307.1 170.7V187.4M308.1 166.8V182.4M309.1 171.7V187.6M310.1 175.7V195.9M311.1 178.1V189.1M312.1 172.9V182.6M313.1 166.7V187.1M314.1 153.8V187.5M315.1 161.5V176.9M316.1 168.1V192.4M317.1 168.8V183.9M318.1 159.7V182.1M319.1 167.5V186.6M320.1 165.3V180.3M321.1 157.1V182.7M322.1 161.5V188.2M323.1 155.2V189.3M324.1 157.4V194.1M325.1 141V204.9M326.1 152.4V202.2M327.1 150.6V192.9M328.1 154.7V194.3M329.1 151V190M330.1 158.4V193.5M331.1 147.2V191.5M332.1 154.9V189M333.1 153.7V199.8M334.1 149.8V194.7M335.1 156.2V190.5M336.1 157.4V192.2M337.1 153.3V191.9M338.1 149.6V184.1M339.1 142.9V185.1M340.1 144.3V182M341.1 141.1V175.4M342.1 140.5V178.6M343.1 128.9V173.3M344.1 127.4V164M345.1 143.4V175.8M346.1 139.7V159M347.1 145.2V169.2M348.1 162.6V180.2M349.1 164.1V191.1M350.1 162.4V197.3M351.1 160.8V189.4M352.1 168.5V203.9M353.1 167.5V208.4M354.1 168.3V202.5M355.1 170.7V209.2M356.1 165.3V215.1M357.1 167.3V214.8M358.1 175.9V218.9M359.1 160.8V209.8M360.1 159.4V204M361.1 166.4V207.9M362.1 160.5V212.6M363.1 163.4V217.7M364.1 175.7V216.3M365.1 167.3V213.8M366.1 173.7V213M367.1 166.6V212.5M368.1 177.7V218.7M369.1 181.7V220.1M370.1 176.3V217M371.1 188.6V219.4M372.1 190.1V218.8M373.1 191.3V215.3M374.1 187.9V207.9M375.1 183.7V215.2M376.1 177.1V213.8M377.1 187.2V214.7M378.1 176.7V213.6M379.1 178.3V205.5M380.1 174.7V204.2M381.1 177.2V207M382.1 180.8V216.2M383.1 174.5V213.1M384.1 184.1V213.5M385.1 181.8V203.8M386.1 175.7V208.3M387.1 164.5V202.7M388.1 170.1V207.1M389.1 176.7V202M390.1 165.9V207.8M391.1 155.1V200.1M392.1 169.5V198.4M393.1 165.4V190.3M394.1 166.1V201.6M395.1 169V206.3M396.1 172.4V209M397.1 170.2V203M398.1 164.7V196M399.1 171V199.4M400.1 175.1V202M401.1 177V199.2M402.1 176.3V211.6M403.1 189.7V212M404.1 182.2V208.2M405.1 184.2V208.2M406.1 179.5V198.4M407.1 182.5V202.5M408.1 183.3V206M409.1 184.3V201.4M410.1 190.7V201.2M411.1 181.9V204.3M412.1 180.5V203.9M413.1 183.8V204.2M414.1 188.5V207.8M415.1 182.9V205.8M416.1 182.3V209.2M417.1 185.4V206.6M418.1 177.3V205.1M419.1 172.5V191.9M420.1 161.5V197M421.1 168.3V209.8M422.1 165.5V192.4M423.1 183.2V205.8M424.1 171.9V202.1M425.1 177.9V221.7M426.1 178.9V208.6M427.1 176.9V212.1M428.1 184.8V220.9M429.1 179.5V213.6M430.1 179.1V209.6M431.1 180.3V215M432.1 179.6V218.7M433.1 183.1V211.7M434.1 180.4V211.7M435.1 174.9V211.8M436.1 177.4V210.8M437.1 176.4V217.2M438.1 181V219.6M439.1 184.6V221.4M440.1 175.5V208.3M441.1 178.8V207.3M442.1 179.8V205.3M443.1 179.1V211.8M444.1 182.6V206.5M445.1 179V223.3M446.1 167.8V201.5M447.1 162.7V199.7M448.1 176.6V202.1M449.1 181.3V209M450.1 182.6V205.5M451.1 177.5V207.7M452.1 174.9V201.5M453.1 166.4V200.5M454.1 177.6V203.9M455.1 177.9V206M456.1 179.5V204.7M457.1 178.1V200.3M458.1 176.8V210.7M459.1 182.5V216.3M460.1 175.2V213.7M461.1 177V199.8M462.1 177.2V204.3M463.1 163.7V201.9M464.1 163.4V201.7M465.1 170.9V202.6M466.1 172.5V205.4M467.1 170.2V208.1M468.1 179.3V200M469.1 173.7V206.2M470.1 171.5V207.7M471.1 172.5V212.2M472.1 173.7V201.2M473.1 171.3V206.7M474.1 171V204.4M475.1 173V210.1M476.1 175.1V212.2M477.1 173.4V200.6M478.1 168.5V199.8M479.1 169.9V203.7M480.1 166.8V212.4M481.1 184.3V215.1M482.1 176V226.5M483.1 168.6V218.2M484.1 174.9V212.5M485.1 177.4V216.9M486.1 174.4V213.3M487.1 165.4V215.2M488.1 166.2V218.5M489.1 165.2V223M490.1 159.5V206.1M491.1 170V208M492.1 167.9V211.7M493.1 161.7V212.9M494.1 166.8V208.3M495.1 182.5V211.2M496.1 178V225.3M497.1 185.2V216.2M498.1 182.4V211.4M499.1 169.1V213.3M500.1 186.3V212.7M501.1 183.9V217.2M502.1 184.5V209.2M503.1 182.1V211.5M504.1 174.6V205.1M505.1 178.5V198.7M506.1 185.7V212.6M507.1 190V220.5M508.1 185.6V213.8M509.1 182.3V210.4M510.1 179.6V219.1M511.1 184.9V214.2M512.1 183.6V207.6M513.1 183.4V226.3M514.1 187.3V213.9M515.1 191.4V217.8M516.1 181.4V214.6M517.1 181.9V215.1M518.1 174.6V216.1M519.1 173.6V208.3M520.1 179.5V216.1M521.1 172.8V203M522.1 171V202M523.1 166.9V202.7M524.1 165.1V206.7M525.1 179.5V216.3M526.1 180.8V227.6M527.1 178.9V218.7M528.1 178.9V226.7M529.1 180.3V216.1M530.1 177.8V222.3M531.1 180.2V222.9M532.1 174V225.2M533.1 171.7V218.3M534.1 166.6V215.1M535.1 170.7V210.2M536.1 171.1V213.5M537.1 168.3V205M538.1 165.8V204.5M539.1 166.4V203.7M540.1 174.6V212.2M541.1 169.8V210.1M542.1 174.8V209M543.1 168.1V204.7M544.1 172.9V202.1M545.1 170.6V201.3M546.1 173.4V196.5M547.1 164.7V195.8M548.1 174.4V193.6M549.1 176.5V207.8M550.1 166.6V192.5M551.1 170.3V211.2M552.1 173.1V211.5M553.1 178.8V217.8M554.1 185.3V218.3M555.1 183.7V216.2M556.1 185.1V220M557.1 185.9V224.7M558.1 188V218.1M559.1 173.5V217.4M560.1 183.3V216.7M561.1 187.7V209.8M562.1 173.4V211.9M563.1 191.7V220.6M564.1 198.9V219.3M565.1 194.3V218.2M566.1 180.9V225.8M567.1 183.5V209.4M568.1 176.3V216.7M569.1 180.2V232.1M570.1 181V215.8M571.1 169.5V210.9M572.1 163.1V202.7M573.1 170.9V209.5M574.1 168V211.2M575.1 162.6V201.1M576.1 166.4V213.9M577.1 168.4V203.5M578.1 169.3V202.2M579.1 179.2V216.4M580.1 171.6V208.3M581.1 165.5V205.5M582.1 169V216.2M583.1 173.7V201.9M584.1 166.4V190.3M585.1 160.4V193.6M586.1 163.9V199.6M587.1 168.9V202.1M588.1 162.8V208.3M589.1 155.6V201.2M590.1 158.1V193.9M591.1 152.2V202.6M592.1 160.4V199.1M593.1 154.2V200.1M594.1 159.1V189.1M595.1 160.9V193.1M596.1 158.2V194.1M597.1 173.1V194.6M598.1 171.7V205.2M599.1 175V204.1M600.1 177.6V207M601.1 172.1V205.9M602.1 165.9V199.8M603.1 174.3V203M604.1 184.9V210.1M605.1 181.3V208.6M606.1 181V204.7M607.1 174.7V208M608.1 175.9V202.4M609.1 173.2V200.8M610.1 172V202.3M611.1 179.1V228.9M612.1 190.1V213.8M613.1 187.8V203.8M614.1 182.8V206M615.1 185.6V207.6M616.1 173V206.8M617.1 165.4V207.6M618.1 164.9V201.5M619.1 172.3V198.2M620.1 166.6V206.4M621.1 174.7V199.1M622.1 174.4V201.7M623.1 169.3V199.9M624.1 170V194.1M625.1 175.5V204.7M626.1 169.5V203.4M627.1 177.5V202.7M628.1 174.3V201.4M629.1 170.2V200.9M630.1 170.6V203.3M631.1 175.1V208.3M632.1 173.8V197.8M633.1 162.8V201.6M634.1 167.1V201.8M635.1 167.1V210.8M636.1 161.2V205.3M637.1 166.5V212.7M638.1 166.3V201.6M639.1 165.2V203.4M640.1 164.4V188.9M641.1 158.9V204M642.1 173.2V200.2M643.1 144.6V203.4M644.1 158.5V190.8M645.1 161.1V196.7M646.1 161.9V202.1M647.1 150.6V185.2M648.1 160.6V188M649.1 156.4V192.9M650.1 170.4V192.8M651.1 168.6V205.4M652.1 164.9V196.8M653.1 165.5V195.4M654.1 160.7V189.7M655.1 161.9V196M656.1 160.7V192.2M657.1 165.2V191.3M658.1 166V190.4M659.1 168.8V193.6M660.1 178.2V206.3M661.1 175.4V199M662.1 175.8V199.1M663.1 166.6V219.7M664.1 167V191.7M665.1 165.9V198.9M666.1 156V201.3M667.1 156.3V205.7M668.1 154V202.1M669.1 155.9V194.8M670.1 155.1V195.1M671.1 133.1V200.1M672.1 167.5V196M673.1 163.4V192M674.1 152.3V184.6M675.1 142.8V176.9M676.1 129.5V185.4M677.1 147.5V184.6M678.1 162.3V198.4M679.1 163.4V192.1M680.1 165.6V194.2M681.1 171.4V195.7M682.1 173V191.2M683.1 168.9V197.5M684.1 176V199.3M685.1 172.2V188.9M686.1 161.1V198.1M687.1 165.2V199.1M688.1 177V200M689.1 171.8V196.6M690.1 176.2V201.8M691.1 176.2V202.8M692.1 169.4V198.9M693.1 174.6V205.5M694.1 169.5V207.3M695.1 168.7V226.6M696.1 175V219.3M697.1 174.1V217.4M698.1 181.8V218M699.1 167.3V207.3M700.1 180.8V213.6M701.1 178.4V205.5M702.1 170.5V214.2M703.1 176.2V206.8M704.1 168.5V205.9M705.1 157.4V216.6M706.1 175.2V206.1M707.1 163.7V204.5M708.1 161.9V195M709.1 169.9V202.2M710.1 170.9V203.1M711.1 164.8V199.2M712.1 161.8V200.7M713.1 174.9V202.4M714.1 178.7V207M715.1 181.9V213.1M716.1 183.2V220.3M717.1 180.7V221.2M718.1 180.9V214.2M719.1 188.3V223M720.1 185.7V214.3M721.1 178.6V207.7M722.1 180.1V217.4M723.1 177V209.4M724.1 174.5V212.1M725.1 175.7V208.8M726.1 177.3V202.9M727.1 176.7V215.1M728.1 180.5V214.2M729.1 182V215.5M730.1 182.4V216.8M731.1 172.7V209M732.1 186.7V209M733.1 177.6V205.7M734.1 182.4V210.8M735.1 172.3V213.3M736.1 177.1V198.1M737.1 169.5V201.8M738.1 177.6V202.6M739.1 179.1V208.1M740.1 190.1V221.7M741.1 185V206.8M742.1 184.8V216.9M743.1 182.2V210.1M744.1 188.3V211M745.1 185.1V207.6M746.1 186.6V212.8M747.1 182.4V210.9M748.1 186.4V207.8M749.1 188.2V210.6M750.1 181.7V212.9M751.1 176.1V201.3M752.1 173.5V211.7M753.1 183.8V206.3M754.1 185.4V215.2M755.1 178.1V208.8M756.1 177.8V204.5M757.1 181.1V201.9M758.1 177.8V206.2M759.1 177.3V208.4M760.1 183.6V215M761.1 181.5V237.4M762.1 187.9V212.9M763.1 182.4V215M764.1 191.9V219.1M765.1 189.6V219.4M766.1 189.3V217.2M767.1 190.9V209.5M768.1 191.3V213.4M769.1 191.9V212.2M770.1 200V220.3M771.1 197.5V215.8M772.1 186.8V210.7M773.1 189V214.1M774.1 178.4V214.2M775.1 190.9V222.2M776.1 185V210.3M777.1 188.3V209.1M778.1 181.5V199.3M779.1 179.2V197.8M780.1 172.2V208M781.1 176.9V196.3M782.1 188.2V202.6M783.1 183.2V207.3M784.1 176.8V202.8M785.1 183.4V207.6M786.1 187.3V207M787.1 187.6V217.2M788.1 187.9V221.9M789.1 179V203M790.1 178V211.1M791.1 183.6V210.7M792.1 181.9V209.3M793.1 173.8V205.4M794.1 185.5V208M795.1 177V209.5M796.1 184.5V206.6M797.1 200.4V217.9M798.1 186.2V214.7M799.1 188.4V214.2M800.1 188.6V216M801.1 191.7V215.9M802.1 190.8V210.5M803.1 192.6V217.6M804.1 199.6V222.1M805.1 201.3V222.1M806.1 197.7V219.4M807.1 191.1V205.5M808.1 186.7V207.3M809.1 188.5V207.7M810.1 187.3V215.2M811.1 187.8V215.1M812.1 182.4V212.8M813.1 185V207.4M814.1 179.6V216.5M815.1 177.9V195M816.1 172.2V198.4M817.1 165.7V201.6M818.1 165.1V202.7M819.1 171.5V203.3M820.1 173.1V201.3M821.1 150.2V207.9M822.1 160.6V212.7M823.1 167.8V213.3M824.1 180.5V217.6M825.1 178.1V212.6M826.1 177.4V214.3M827.1 173.5V209.9M828.1 175.5V214.5M829.1 181.6V216M830.1 178V216.5M831.1 169.3V217.7M832.1 170.3V212M833.1 186.6V212.6M834.1 181V209.9M835.1 169.5V221M836.1 182.8V233.3M837.1 184.5V215.1M838.1 182.1V224.6M839.1 176.7V214.9M840.1 181.4V221.4M841.1 179.9V211.9M842.1 175.9V205.8M843.1 173.4V213M844.1 175.2V209.2M845.1 175.5V206.5M846.1 176.2V213M847.1 166.9V200.1M848.1 151.2V186.1M849.1 167.4V193.9M850.1 166.2V201.3M851.1 180.9V204.3M852.1 173.1V206.8M853.1 169.3V198.3M854.1 171.5V202.6M855.1 171.7V203.4M856.1 171V205.3M857.1 158.8V205.6M858.1 168.2V202.7M859.1 178.2V200.2M860.1 162.4V205.9M861.1 172.9V202.4M862.1 169V197.6M863.1 168.2V206.9M864.1 165V201.6M865.1 155.4V196.1M866.1 163.6V212.8M867.1 164V200.5M868.1 167.2V213.2M869.1 172.3V214.9M870.1 172V215.1M871.1 165.3V213.1M872.1 165.2V202.8M873.1 166V199M874.1 167.8V200.2M875.1 169.7V193.5M876.1 161.1V204.1M877.1 163.2V196.7M878.1 171.6V201M879.1 171.1V201.9M880.1 177.4V218.2M881.1 170.2V211.4M882.1 173.4V210.3M883.1 180.9V222.1M884.1 175V216.6M885.1 180.2V238.8M886.1 176.7V212.2M887.1 168.5V212.3M888.1 164.9V211.1M889.1 176.9V230.7M890.1 184.2V225.9M891.1 161.5V211.3M892.1 161.3V215.8M893.1 164.8V213.2M894.1 166.3V210.2M895.1 169.4V202.8M896.1 157.8V201.1M897.1 154.4V204.7M898.1 163.5V199.5M899.1 165.3V204M900.1 158.4V203.1M901.1 167.4V205.5M902.1 166.9V205.6"/>
</g>
<path fill="none" stroke="#8a5a00" stroke-width="0.9" d="M139.5 107.5v7M150.5 99.7v10.6M171.5 128.3v10.5M178.5 135.2v7.3M188.5 114.3v9.6M191.5 117.5v10.2M194.5 107.1v12.3M201.5 123.4v4.5M216.5 130.6v9.6M247.5 141.8v4.4M253.5 148.7v4.5M343.5 131.1v6.1"/>
<path fill="none" stroke="#0a6a0a" stroke-width="0.9" d="M138.5 102.1v4M197.5 127v15.2M204.5 124.9v9.5M210.5 123.8v10.7M237.5 135.7v12.1M243.5 125.9v14.6M467.5 171.9v5.8M494.5 168v11M550.5 167.6v11.2M712.5 165.4v6.5M725.5 176.7v6.2"/>
<path fill="none" stroke="#f00" stroke-width="1.8" d="M133 38V70M134.7 57V74"/>
<g fill="none" stroke-width="1.80" stroke-linecap="butt">
<path stroke="#000" d="M136.9 484V549.5M137.9 481.4V521.6M138.9 472.3V517.1M139.9 470.2V526.9M140.9 473.6V520.1M141.9 485.4V519.1M142.9 485.5V529.1M143.9 473.6V525.3M144.9 482.8V530.2M145.9 486.6V530.3M146.9 488.2V528.7M147.9 492.7V536.9M148.9 480.9V533.2M149.9 491.2V532.1M150.9 489.4V528.6M151.9 492V527M152.9 476.4V523.3M153.9 463V526.4M154.9 463.6V525.4M155.9 467.7V521.7M156.9 467.7V528.3M157.9 475.5V525.7M158.9 484.3V530.4M159.9 480.8V533.8M160.9 462.9V527M161.9 477.7V536.2M162.9 486.8V540M163.9 500.4V541.5M164.9 485.3V559M165.9 502.2V545.6M166.9 503.4V552.2M167.9 499.7V544.5M168.9 492.2V545M169.9 485V535.1M170.9 495.3V545.5M171.9 507.3V549.5M172.9 499.2V547.2M173.9 500.9V555M174.9 506.4V553M175.9 486.8V546.6M176.9 483.2V544.4M177.9 501.8V565.9M178.9 487.5V540.5M179.9 496.6V547.9M180.9 495.6V542.4M181.9 502.4V541.4M182.9 499.1V542.1M183.9 503.2V545.8M184.9 500.3V542.7M185.9 500.7V545.7M186.9 514.2V550.9M187.9 516.4V551.1M188.9 515.6V561.5M189.9 513.2V570.2M190.9 512.7V560.7M191.9 524.1V553.5M192.9 508V557.9M193.9 486.7V572.4M194.9 496.1V546.9M195.9 512.3V552.4M196.9 513.5V553.8M197.9 496.1V545.3M198.9 511.5V549.7M199.9 505.6V553.2M200.9 504.4V565.9M201.9 497.3V556.5M202.9 508V559.2M203.9 510.7V559.4M204.9 503.5V558.3M205.9 492.6V554.6M206.9 503.9V546M207.9 502.5V560M208.9 500.6V562.2M209.9 508.1V554.8M210.9 521.1V569.6M211.9 504.1V546.6M212.9 510.9V557.3M213.9 509.8V587.1M214.9 493.9V548.7M215.9 497.1V550.1M216.9 504.4V555.1M217.9 503.4V554.7M218.9 489.1V551.9M219.9 497.5V551.1M220.9 498.7V551.5M221.9 498.4V545.4M222.9 502.5V558.3M223.9 504.5V568.1M224.9 492.8V556.6M225.9 491.8V556.1M226.9 501.2V549.6M227.9 503V561.9M228.9 512.7V551.4M229.9 513.6V564.4M230.9 495.3V572.6M231.9 510.7V562M232.9 499.6V551.4M233.9 491V558.1M234.9 501.3V570.5M235.9 493.4V552.5M236.9 503.8V570M237.9 498.2V562.3M238.9 508.1V568.2M239.9 496.5V561.4M240.9 503V572.7M241.9 493.3V565.2M242.9 496.5V565.6M243.9 500.7V568.8M244.9 497.8V576.6M245.9 507.1V595.4M246.9 503.8V563.5M247.9 495.2V577M248.9 504.9V556.9M249.9 507.6V568.8M250.9 512.3V558.2M251.9 510V567.3M252.9 516.2V572.4M253.9 513.1V564.5M254.9 516.7V567M255.9 526V573.2M256.9 513.4V570M257.9 507.2V575.2M258.9 515.6V575.6M259.9 517.6V576.5M260.9 501.6V552.4M261.9 509.5V567M262.9 514.9V562.5M263.9 504.1V566M264.9 506.6V562.2M265.9 499.6V558.1M266.9 507.2V569.2M267.9 497.1V560.4M268.9 504.7V562.7M269.9 500.9V565.4M270.9 496.5V566.5M271.9 512.5V554.6M272.9 520V562.2M273.9 523.5V575M274.9 516.2V569.5M275.9 521.9V563.1M276.9 515V570.8M277.9 531.3V578.1M278.9 526.5V579.4M279.9 522.2V578.5M280.9 515.3V579.2M281.9 532V590M282.9 524.5V579.6M283.9 520.9V563.3M284.9 518.2V573.4M285.9 533.3V582.6M286.9 529.4V572.7M287.9 533.2V578.9M288.9 531.9V574.8M289.9 530.4V577.7M290.9 524.7V566.4M291.9 542.6V572.7M292.9 529.6V578.9M293.9 535.3V591.8M294.9 537.2V593.4M295.9 535.9V575.2M296.9 536.6V597.3M297.9 530.1V566.6M298.9 533.4V564.5M299.9 533.7V573.9M300.9 535.7V572.2M301.9 529.3V569.6M302.9 517.9V565M303.9 518.5V570.5M304.9 536.5V568.9M305.9 533V570.2M306.9 536.9V580.2M307.9 535.5V581.4M308.9 539.1V569.8M309.9 538.6V578.3M310.9 538.1V567M311.9 531.5V571.5M312.9 530.6V567.4M313.9 529.9V571.7M314.9 534.4V574.6M315.9 540V577.4M316.9 533.2V579.9M317.9 532.1V585.7M318.9 538.9V577.7M319.9 531.4V584.4M320.9 533.3V583M321.9 519.2V577M322.9 523.5V563.8M323.9 525.5V558.1M324.9 529.5V586.8M325.9 525.8V587.6M326.9 530.8V582.6M327.9 530.5V577.1M328.9 517.2V582.7M329.9 528.2V581.6M330.9 519V580.2M331.9 524.9V584.3M332.9 526.8V581M333.9 511.6V578.8M334.9 514.7V573M335.9 535V583.9M336.9 536.3V580.8M337.9 527.2V592.3M338.9 538.8V574.9M339.9 533.5V573.6M340.9 531.9V577.1M341.9 536.5V584.4M342.9 537.8V583.3M343.9 537V583.1M344.9 549.8V580.9M345.9 548.7V587.8M346.9 556.8V596M347.9 551.5V596.1M348.9 542.5V576.7M349.9 547.7V593.5M350.9 556.5V599.4M351.9 551.6V596M352.9 560V596.8M353.9 547.3V583.5M354.9 543.3V585.7M355.9 557.4V594.8M356.9 550.5V588.4M357.9 537.9V575.3M358.9 556.8V598.3M359.9 552.9V598.4M360.9 553.7V590.1M361.9 530.6V585.4M362.9 533.4V577.1M363.9 536.6V582M364.9 531.1V580.9M365.9 538.8V579.1M366.9 535.2V579.1M367.9 538.4V580.8M368.9 534.6V575.5M369.9 530.9V576.8M370.9 526.3V577.5M371.9 526.2V580.4M372.9 523.1V577M373.9 531V588.4M374.9 529.5V588.3M375.9 531.1V579.8M376.9 552V593.9M377.9 555.7V593.7M378.9 548.3V584.3M379.9 538V590.1M380.9 546.5V582.6M381.9 537.9V593.5M382.9 536.7V578.2M383.9 519.2V581.5M384.9 529.6V579.3M385.9 523V592.6M386.9 537.5V586.3M387.9 537.7V588.1M388.9 533.2V583.8M389.9 539V586.5M390.9 556.3V590.6M391.9 554.3V612M392.9 546.1V588.4M393.9 539.6V590.2M394.9 533.9V585.3M395.9 528V582M396.9 527.5V585.8M397.9 540.9V596.7M398.9 526.5V596.7M399.9 533.4V587.2M400.9 537.1V594.6M401.9 538.7V594.4M402.9 531.5V587.1M403.9 534.7V587.5M404.9 533.6V587.6M405.9 536.4V600.5M406.9 552V605.5M407.9 550.1V603.2M408.9 548.5V606.5M409.9 523.5V601.4M410.9 530.2V588.5M411.9 529.9V588.6M412.9 532.9V590.2M413.9 536.4V592M414.9 521.7V583.3M415.9 530.2V598.7M416.9 545.4V594.3M417.9 531.8V589.2M418.9 526.4V594.8M419.9 533.7V592.2M420.9 524.8V592.5M421.9 535.2V583M422.9 534.2V597.4M423.9 540V597.8M424.9 534.5V610.6M425.9 535.3V590.6M426.9 533.9V583.3M427.9 522.4V588.6M428.9 528.9V599.6M429.9 527.8V602.2M430.9 532V597.8M431.9 530.8V602.3M432.9 532.6V601.5M433.9 522.9V597.1M434.9 520.5V594.1M435.9 528.6V597.3M436.9 521.5V591.7M437.9 529.7V601.2M438.9 529.8V601.9M439.9 531.6V599.4M440.9 525.9V601.2M441.9 524.2V598.9M442.9 527.8V589.3M443.9 533.6V588.6M444.9 541.7V595.2M445.9 538.4V599.3M446.9 540.4V597.6M447.9 527.7V598.7M448.9 533.9V594.1M449.9 540.9V601.6M450.9 534.8V589M451.9 538.2V606M452.9 550.7V613.9M453.9 564.9V605.6M454.9 569.4V604.9M455.9 564.8V608.6M456.9 558.2V612.4M457.9 545.9V598.8M458.9 554.9V605.5M459.9 560.6V606.2M460.9 557.8V618.4M461.9 553.8V614.6M462.9 551V617.6M463.9 548.2V612.2M464.9 551.2V608.5M465.9 544V602.1M466.9 548.3V606.4M467.9 553.4V615.6M468.9 551.4V616.9M469.9 546.8V606.3M470.9 547.7V623.3M471.9 551.6V610.2M472.9 561V623.4M473.9 551.8V618.7M474.9 555.7V615.7M475.9 562.9V616.7M476.9 555.5V619M477.9 564.5V617.8M478.9 559.5V619M479.9 541.8V614M480.9 559.7V615.6M481.9 563.3V609.9M482.9 556.1V606.3M483.9 549.2V597.8M484.9 538.9V594.9M485.9 542.2V595.9M486.9 531.9V599.5M487.9 549.7V590.1M488.9 549V600.2M489.9 548.7V603.7M490.9 549.7V605.8M491.9 556V621.8M492.9 561.6V605.8M493.9 562.9V610.5M494.9 564.8V614.4M495.9 563.9V611.9M496.9 557.2V607.3M497.9 557.4V605.1M498.9 553.4V604.7M499.9 553.1V606.6M500.9 555.6V602.9M501.9 550.3V600.1M502.9 541V598.5M503.9 548.3V604.1M504.9 555.6V600.5M505.9 561V599.4M506.9 550.2V610.7M507.9 544.6V594.4M508.9 546.6V605.7M509.9 551.6V598.2M510.9 543.3V595.1M511.9 545.7V589.9M512.9 553V596.9M513.9 550.6V599.9M514.9 545.4V594.6M515.9 537.3V590.1M516.9 542.5V595.7M517.9 537.1V585.7M518.9 531.5V596.6M519.9 543V595.5M520.9 546.5V606.4M521.9 536.2V607.6M522.9 547.6V596.2M523.9 538.3V603.4M524.9 529.3V597.2M525.9 539V604.9M526.9 545.3V595.2M527.9 537.7V602.9M528.9 532.7V594.9M529.9 541.8V600M530.9 544.4V597.8M531.9 536.8V604.2M532.9 544.9V600.7M533.9 538.5V595.4M534.9 539.4V598.9M535.9 537.8V601.1M536.9 542.5V606.1M537.9 563.2V626.3M538.9 558.5V611.9M539.9 555.6V606.1M540.9 561.1V618.6M541.9 555V600.3M542.9 565.5V613.4M543.9 559.9V615.6M544.9 553.5V598.9M545.9 550V589.4M546.9 552.4V604.4M547.9 567V621M548.9 565.7V609.8M549.9 560.2V604.6M550.9 558.4V615.1M551.9 559.4V617.4M552.9 563.6V600.6M553.9 557.3V607.9M554.9 557.8V609M555.9 544.7V607M556.9 561.1V612.5M557.9 551.2V602.2M558.9 539.9V618.5M559.9 556.1V605.6M560.9 549.9V611.8M561.9 549.1V611.2M562.9 554.9V607M563.9 541.7V598.3M564.9 536.6V602.7M565.9 535.8V615.4M566.9 527.2V604.2M567.9 538.5V606.9M568.9 544.9V612.9M569.9 542.2V630.3M570.9 537.9V617.8M571.9 535.3V613.6M572.9 537.6V620.7M573.9 526.9V606.6M574.9 530.2V621.4M575.9 524.5V605.5M576.9 520.5V599.5M577.9 520.2V597M578.9 524.5V607.3M579.9 532.1V610.9M580.9 533.6V615.8M581.9 508.2V594.5M582.9 518.2V587M583.9 536.3V596M584.9 534.1V601.4M585.9 524.5V591.6M586.9 529.7V593M587.9 534V592.6M588.9 520.4V600.3M589.9 527.2V600.7M590.9 522.3V608.9M591.9 526.5V608.4M592.9 516.7V586.5M593.9 523.2V597.7M594.9 532.8V600.1M595.9 530.4V597.7M596.9 512.1V597.1M597.9 509.8V593.5M598.9 515.5V595.4M599.9 515.6V605.3M600.9 510.1V594.1M601.9 527.4V593.7M602.9 522V599M603.9 526V587.1M604.9 535.5V593.4M605.9 542.2V582.5M606.9 536.2V597.7M607.9 550.4V597.2M608.9 545.1V604.6M609.9 545.7V588.4M610.9 547V606.3M611.9 548.4V605.5M612.9 548.1V590M613.9 553.4V598.3M614.9 560.3V604.7M615.9 544.2V593.6M616.9 543.5V621M617.9 534V570M618.9 534.4V580.3M619.9 541.8V573M620.9 539.6V580M621.9 545.5V578.6M622.9 540.2V583.5M623.9 546.3V581.6M624.9 527V581.5M625.9 516.1V554.2M626.9 537.1V569.1M627.9 540.3V576.1M628.9 526.8V566.2M629.9 542.3V568.1M630.9 544.1V585.4M631.9 550.1V579.8M632.9 549.7V589.4M633.9 540.5V588.1M634.9 542.6V587M635.9 543.4V583.4M636.9 554.3V583M637.9 543.9V575.6M638.9 555.3V600.6M639.9 554.4V593.5M640.9 549.7V574.5M641.9 553.5V575.9M642.9 556V587.1M643.9 552.1V582.4M644.9 540.7V575.6M645.9 551V584M646.9 544.5V582.3M647.9 558.6V584M648.9 534.2V575.8M649.9 540.5V575.1M650.9 535.6V563.7M651.9 532.4V581.4M652.9 553.1V581.6M653.9 542.5V568.4M654.9 545.9V572.8M655.9 547.1V574.4M656.9 547.7V567.5M657.9 542.2V573.1M658.9 550.2V587.8M659.9 546.7V579.1M660.9 553.5V581.1M661.9 542.6V575.4M662.9 547.6V582.7M663.9 543.4V583.6M664.9 559.6V584.1M665.9 543V574.4M666.9 538.2V567.8M667.9 541.9V576M668.9 542.8V573.6M669.9 543.4V572.5M670.9 539.3V578.4M671.9 544.9V586.9M672.9 543.3V596M673.9 546.7V603.8M674.9 539.2V618.2M675.9 524.1V608.3M676.9 527.8V607.2M677.9 514.1V596.7M678.9 531.9V605.4M679.9 518.4V615.8M680.9 545.5V615.8M681.9 538.7V607.6M682.9 545V608.6M683.9 542.4V610M684.9 525.1V623.8M685.9 545.4V621.1M686.9 541.3V620.6M687.9 540.3V594.4M688.9 544.4V587.3M689.9 535V574.5M690.9 538.1V570.4M691.9 536.7V564.5M692.9 538.1V565.4M693.9 541V563.8M694.9 548.1V575M695.9 546.5V581.7M696.9 542.2V570M697.9 544.5V561.2M698.9 540.2V578.7M699.9 548.4V580.1M700.9 545.7V570.3M701.9 549.5V579M702.9 547.3V584.3M703.9 547V578M704.9 533.8V568M705.9 535.6V569.9M706.9 524.9V575.5M707.9 541.1V574.2M708.9 534.7V564.3M709.9 534.8V568.4M710.9 549.1V584.3M711.9 543.3V585.4M712.9 553.4V595M713.9 545.6V584M714.9 548.4V599.3M715.9 549.7V566.2M716.9 541.4V557.2M717.9 542.8V558.2M718.9 542.8V557.4M719.9 528.9V563.4M720.9 543.7V575.9M721.9 553.6V568.4M722.9 562.2V583.4M723.9 556.8V593M724.9 553V571.6M725.9 550.4V569.5M726.9 538V574.6M727.9 552.4V589.1M728.9 547.6V575.7M729.9 558.7V576.5M730.9 547.4V576.4M731.9 548.3V558.1M732.9 553V598.3M733.9 549.7V565.5M734.9 546V575M735.9 557.6V575.5M736.9 541.1V568.6M737.9 548.6V568.4M738.9 533.9V554.6M739.9 554.5V571.2M740.9 561.6V588.1M741.9 558.1V573M742.9 548.3V584.6M743.9 544.7V576.4M744.9 537.4V559.1M745.9 547.9V568.4M746.9 538.9V566.7M747.9 541.4V561.6M748.9 516.1V554M749.9 525V546.5M750.9 529.5V549.9M751.9 529.5V564.3M752.9 537.8V563.7M753.9 544.6V567.9M754.9 542.6V572.6M755.9 540.6V564.8M756.9 531.6V562.4M757.9 524.2V564.5M758.9 519.5V563.8M759.9 512.5V562.9M760.9 511.5V571.6M761.9 519.1V569.8M762.9 507V563.4M763.9 514.5V559.2M764.9 510.1V566.5M765.9 497.3V549.2M766.9 491.4V556.4M767.9 510.7V558.1M768.9 504.5V560.4M769.9 511.7V559.1M770.9 520.1V564.1M771.9 515.8V566.2M772.9 512.6V560.4M773.9 524.8V563.1M774.9 534V556.1M775.9 529.6V562.8M776.9 532.5V553.5M777.9 529.2V555.2M778.9 538.9V575.2M779.9 530.8V565.5M780.9 535.7V568.7M781.9 537.4V561.5M782.9 543.8V588.5M783.9 549.2V587.6M784.9 553.5V573.2M785.9 560V568.2M786.9 561.1V582.1M787.9 545.9V585M788.9 542.1V570.8M789.9 557.5V567.8M790.9 551.9V564.4M791.9 552.1V566.1M792.9 550.7V567.7M793.9 549.8V567.8M794.9 543.8V570.8M795.9 552.5V569.4M796.9 546.9V567.8M797.9 545.2V570.1M798.9 553.6V575.7M799.9 559.5V577.5M800.9 553.5V581.3M801.9 532.9V573.2M802.9 532.4V568.2M803.9 541.8V571.9M804.9 522.4V573.8M805.9 535.3V576M806.9 540.6V575.5M807.9 524.6V563.8M808.9 527.6V567.7M809.9 519.7V568.6M810.9 532.1V565.6M811.9 529.7V561.4M812.9 530.2V553.6M813.9 522.1V563.1M814.9 531.8V560.6M815.9 548.7V569M816.9 551.4V566.8M817.9 553.7V584.5M818.9 539.4V572M819.9 548.5V574.4M820.9 549.4V570.2M821.9 551.5V571.9M822.9 549V574.5M823.9 544.4V562.4M824.9 552.6V567.4M825.9 546.5V564.8M826.9 545.6V579.2M827.9 537.5V570.1M828.9 550.7V575.5M829.9 558.1V578.8M830.9 559V582.2M831.9 540.2V567.9M832.9 554.8V580.7M833.9 552V566.5M834.9 541.6V551.8M835.9 545.6V565.7M836.9 537.7V571.6M837.9 540.5V571.5M838.9 554.3V564.2M839.9 558.4V568.4M840.9 552.3V574.9M841.9 554.6V574.8M842.9 560.6V576.1M843.9 561.8V581.3M844.9 547V577.7M845.9 552.3V577.7M846.9 549.3V568.4M847.9 545.8V564.6M848.9 540.3V553.3M849.9 540.5V562.5M850.9 539.4V561.8M851.9 550.4V569.1M852.9 541.8V574.2M853.9 548.4V566.6M854.9 544.3V560.9M855.9 545.2V562.7M856.9 548.8V569.5M857.9 550.2V579.6M858.9 551.1V570.6M859.9 544.9V568.7M860.9 550.6V562.5M861.9 552.2V569.8M862.9 562.1V575.4M863.9 568.2V592.9M864.9 564.2V591.1M865.9 562.8V579M866.9 563.6V592.3M867.9 564V579.7M868.9 559.1V575.8M869.9 552.6V571.6M870.9 565.5V579.4M871.9 562.9V586.4M872.9 566.9V587.1M873.9 556.5V580.7M874.9 559.8V576.1M875.9 549.4V582.6M876.9 558.4V575.3M877.9 566V576.5M878.9 562.9V576.5M879.9 564.6V580.9M880.9 571.7V575M881.9 557.3V573.6M882.9 562.1V588.8M883.9 559.5V572.1M884.9 563.4V577.4M885.9 558.2V575M886.9 564.2V578M887.9 549.8V561M888.9 541.4V558.6M889.9 554.5V557.5M890.9 558.3V560.3M891.9 554.5V559.4M892.9 547.5V567.9M893.9 552.8V578.7M894.9 554.8V567.9M895.9 552.3V569.2M896.9 545.3V562.2M897.9 541.4V548.8M898.9 543.8V564.4M899.9 547.9V567.5M900.9 557.3V570M901.9 565.8V589M902.9 568.2V584.3M903.9 566.8V579M904.9 550.8V568.3M905.9 570V582.1M906.9 565V579.9"/>
<path stroke="#f00" d="M136.9 484.9V536.7M137.9 489V534.5M138.9 497V534.3M139.9 493.9V545.4M140.9 490.1V534.2M141.9 504.4V564.2M142.9 502.8V546.4M143.9 504.9V575.8M144.9 510.2V551.2M145.9 505.5V572.1M146.9 500.1V549.9M147.9 496.6V551.3M148.9 508.7V566.9M149.9 511.7V581.1M150.9 502.2V553.3M151.9 506.4V547.2M152.9 502.3V551.1M153.9 505.4V561M154.9 507.3V557.9M155.9 510V564.7M156.9 513.9V562.9M157.9 497.2V560.7M158.9 506.6V550.7M159.9 505.3V561.8M160.9 502.8V558.5M161.9 485.3V555.3M162.9 491.1V567.8M163.9 488.2V563.5M164.9 490.5V571.8M165.9 495.5V559.4M166.9 515.8V577.1M167.9 505.6V571.5M168.9 497.6V569.7M169.9 512.5V559.9M170.9 498.1V565M171.9 513.3V564.2M172.9 513.2V585.8M173.9 499.4V565.1M174.9 502.8V574.4M175.9 509.2V572.9M176.9 501.5V563.2M177.9 496.1V561.5M178.9 497.1V567.4M179.9 495.2V591M180.9 500.8V568M181.9 493.4V563.7M182.9 498V570.3M183.9 496.8V559.9M184.9 501.4V562.2M185.9 498.7V560.2M186.9 487.5V558.3M187.9 503.5V566.2M188.9 492.8V567.5M189.9 496.5V566.8M190.9 500.9V567.3M191.9 506.6V561.8M192.9 495.8V558.6M193.9 496.5V557.6M194.9 520.2V561M195.9 509.6V554.4M196.9 501.5V548M197.9 498.6V547.5M198.9 514.7V555.8M199.9 496.5V548.8M200.9 504.5V552.1M201.9 504.9V554.3M202.9 516.1V560.1M203.9 508.1V562.2M204.9 511.2V559.1M205.9 494.2V557M206.9 489.7V553.4M207.9 504.3V555.6M208.9 499.6V558.7M209.9 507.3V571.6M210.9 499.2V564.4M211.9 501.4V562.9M212.9 500V580.4M213.9 492.2V561.7M214.9 487.5V562.3M215.9 495.6V557.4M216.9 502.7V563.9M217.9 506.7V572.6M218.9 504.1V578.7M219.9 505.2V578M220.9 506.5V575.3M221.9 505.4V563M222.9 513.8V573.8M223.9 510.3V588.2M224.9 516.5V581M225.9 513.1V569.7M226.9 505.9V573M227.9 509.8V568.5M228.9 501.7V563.4M229.9 486.9V571.7M230.9 470.1V556M231.9 493V562.9M232.9 491.6V558.8M233.9 517.4V577.2M234.9 508.3V571M235.9 510.5V568.7M236.9 512.2V572.4M237.9 512.6V575.3M238.9 518.1V580.4M239.9 508.1V570.5M240.9 508.3V561.2M241.9 517.1V565.3M242.9 523.7V566.7M243.9 525.7V560.4M244.9 512.7V562.1M245.9 518V568.4M246.9 509.1V564.2M247.9 507.4V564.1M248.9 520.7V574.4M249.9 513.7V565.6M250.9 518.7V573.7M251.9 523.8V573.2M252.9 525.6V583.8M253.9 532.6V602M254.9 528.6V603.2M255.9 520.6V581.8M256.9 521.3V592.2M257.9 521.2V583.2M258.9 515.4V585.8M259.9 510.5V577.3M260.9 519.1V600M261.9 521.2V577.3M262.9 524.8V572.6M263.9 514.3V588.9M264.9 515.8V585.6M265.9 515.5V578.2M266.9 525.7V579.9M267.9 529.2V580.2M268.9 526.2V587M269.9 527.6V578.3M270.9 506.9V568.7M271.9 525.1V576M272.9 528.4V591.5M273.9 536.8V586.2M274.9 532.4V586.4M275.9 534.5V586.8M276.9 534.7V579.1M277.9 529.7V584.2M278.9 521.2V575.8M279.9 533.2V586.5M280.9 542.4V592.1M281.9 538.6V592.4M282.9 527.9V595.3M283.9 534V590.5M284.9 533.2V584.3M285.9 538.3V587.6M286.9 537.1V595.3M287.9 544.7V592.8M288.9 554.6V594.3M289.9 553.6V594.8M290.9 544.5V596.2M291.9 542.5V583M292.9 550.8V596.5M293.9 539.1V593.2M294.9 535.9V581.7M295.9 536.4V576.2M296.9 538.1V583.9M297.9 539.3V590.7M298.9 545.1V592.6M299.9 530.2V587.4M300.9 538.7V598.6M301.9 534.7V580.7M302.9 539V592.9M303.9 529.9V585.4M304.9 537.3V595M305.9 534.1V590.6M306.9 548.4V594.2M307.9 538.4V601.1M308.9 546.1V599.4M309.9 554V601.7M310.9 547.8V614M311.9 543.8V602.5M312.9 546.2V604.2M313.9 539.2V597.8M314.9 548V599.5M315.9 548.1V597.8M316.9 538.3V601.4M317.9 541.2V602.4M318.9 543.4V596.3M319.9 533.3V597.2M320.9 527.4V586.9M321.9 547.1V593.5M322.9 544V598.6M323.9 546.8V604.2M324.9 542.3V592.1M325.9 561.1V608.6M326.9 557.9V596.1M327.9 550.6V600.2M328.9 539.4V582.6M329.9 543V582.3M330.9 548.1V586.8M331.9 553.7V585.4M332.9 554.3V591.5M333.9 556V593.4M334.9 557.1V598.2M335.9 563.5V598.1M336.9 562.9V594.8M337.9 553.8V603.3M338.9 554.6V588.6M339.9 553.5V594.7M340.9 547.1V579M341.9 548.9V583.2M342.9 546.4V587.3M343.9 552.4V588.2M344.9 550.2V582.6M345.9 552.8V587.2M346.9 557.4V599.5M347.9 545.3V588.6M348.9 555.4V597.2M349.9 557.9V600.9M350.9 551.4V599.4M351.9 554.3V594.6M352.9 559.4V600.6M353.9 555.1V592.3M354.9 560.4V595M355.9 563.4V603.8M356.9 556V620.7M357.9 563.7V597.7M358.9 560.2V607.7M359.9 566.6V613.4M360.9 552.9V597.7M361.9 562.5V600.8M362.9 554.5V595.5M363.9 563V601.7M364.9 571.7V609.8M365.9 570.5V617.3M366.9 569V610M367.9 570.1V604.6M368.9 566.4V598.9M369.9 543.9V594.3M370.9 552.4V604.4M371.9 562.5V607.7M372.9 567.9V606.3M373.9 573.2V606.7M374.9 568.4V606M375.9 557.6V599.6M376.9 560.2V606.8M377.9 549.6V603.7M378.9 550.4V603.5M379.9 564.3V599.3M380.9 555.2V597M381.9 561.9V594.6M382.9 543V593.2M383.9 554.7V597.4M384.9 561.5V594.8M385.9 566.3V598.9M386.9 566.1V598.9M387.9 563.3V594.9M388.9 569.2V602.6M389.9 566.8V598.5M390.9 568.5V600M391.9 564.4V612.4M392.9 565.3V603.9M393.9 558.5V603.4M394.9 561V596.3M395.9 566.3V601.8M396.9 565.7V607.2M397.9 563.7V604.9M398.9 565.2V610.8M399.9 566.9V613.7M400.9 574.5V609.9M401.9 560.9V594M402.9 561.4V596.4M403.9 568.2V604.2M404.9 572.6V603.7M405.9 576.4V618.5M406.9 573.7V622.5M407.9 555.4V610.4M408.9 555.5V606.2M409.9 566.8V609.4M410.9 570.8V634M411.9 571.6V633.8M412.9 572.8V622.7M413.9 568.8V630.5M414.9 575.6V639.7M415.9 573.6V631.3M416.9 569.1V629.5M417.9 570.5V627.1M418.9 566.4V623.4M419.9 564.9V607.8M420.9 568.6V613.1M421.9 575.5V623.3M422.9 577.2V611M423.9 565.3V597.7M424.9 566.6V594.9M425.9 567.6V606.2M426.9 565.8V587.8M427.9 569.8V608.6M428.9 571.4V600.9M429.9 559.5V607.7M430.9 571.6V599.5M431.9 562.2V611.6M432.9 574.8V608M433.9 573V617.5M434.9 585.3V609.1M435.9 567.6V621.3M436.9 566.4V604.9M437.9 566V607.3M438.9 554.5V614.4M439.9 567.1V616M440.9 578.2V617.1M441.9 569.8V615.9M442.9 571.2V623M443.9 570.2V632.4M444.9 574.1V629.2M445.9 582.9V625.5M446.9 567.5V615.5M447.9 568.3V606.8M448.9 576.8V610.8M449.9 579.6V608.6M450.9 578.6V611.4M451.9 570.3V610.7M452.9 569.2V605M453.9 568.8V598.6M454.9 573.6V602.9M455.9 570.8V597.2M456.9 570V601.8M457.9 558.7V601.8M458.9 552.1V595.6M459.9 545.2V606.6M460.9 554.7V602.6M461.9 557.6V596.9M462.9 560.7V627.6M463.9 554.6V609M464.9 549V606.9M465.9 548.5V606.4M466.9 555.2V617.4M467.9 545.1V604.8M468.9 542.5V607.6M469.9 538.8V596.1M470.9 541.1V601.7M471.9 542.7V643.9M472.9 534.7V616.2M473.9 528.4V604.6M474.9 536.6V596.1M475.9 528.3V596.3M476.9 539.5V599.5M477.9 538.5V603.1M478.9 532.7V602.2M479.9 537.6V591.2M480.9 535.6V598.8M481.9 540.1V596.1M482.9 531.9V592M483.9 530.4V584M484.9 539.7V588.3M485.9 542.2V600.3M486.9 534.7V603.1M487.9 531.7V600.1M488.9 531.8V589.3M489.9 533.3V607.4M490.9 540.2V600.1M491.9 541.9V610.7M492.9 545.6V602.3M493.9 530.1V608.2M494.9 543.4V608.2M495.9 549.3V603.4M496.9 538.7V597.5M497.9 545V599M498.9 553.6V611.6M499.9 546.6V609.3M500.9 546.4V609M501.9 543.5V594.7M502.9 533.5V595.7M503.9 545.7V603.2M504.9 538.8V603.2M505.9 525V592.3M506.9 516.8V585.6M507.9 525V596.7M508.9 530.9V587.9M509.9 526.6V602.9M510.9 519.7V589.4M511.9 513.4V579.6M512.9 523V588.2M513.9 530.5V588.2M514.9 542V593.4M515.9 548.3V598.4M516.9 545.5V603.2M517.9 538.5V598.1M518.9 543.5V590.5M519.9 529.6V591.9M520.9 544.2V598.7M521.9 546.4V602.4M522.9 540.6V599.5M523.9 538.1V597.3M524.9 537.1V601.7M525.9 536.7V604.7M526.9 530.8V596.7M527.9 543.9V626.2M528.9 522.3V593.3M529.9 525.1V604.9M530.9 541.1V597.4M531.9 536V597M532.9 540.1V597.4M533.9 530.5V590M534.9 530.4V598.4M535.9 535.2V599.1M536.9 538.4V594.1M537.9 540.8V596.4M538.9 553V608.3M539.9 547.7V605.4M540.9 543.3V593.3M541.9 552.1V603.3M542.9 555.1V600.8M543.9 550.2V603.1M544.9 547.8V593.8M545.9 532.6V584.8M546.9 546.3V585.5M547.9 544.5V585.4M548.9 551.2V596.3M549.9 550.4V596.5M550.9 551.2V599.1M551.9 543.9V597.5M552.9 547.7V598.1M553.9 546.1V615.1M554.9 537.4V597.4M555.9 535.3V600.1M556.9 534.4V594M557.9 538.1V621M558.9 527.4V603.2M559.9 533.7V607.4M560.9 535.8V598.2M561.9 546.7V614.4M562.9 552.8V612.8M563.9 538V607.9M564.9 541.4V605M565.9 533.7V598.7M566.9 550.3V594.9M567.9 534.5V595.9M568.9 537.5V597M569.9 528.8V585.5M570.9 553V604.8M571.9 547.5V604.8M572.9 561.2V605.3M573.9 559V600.5M574.9 557.3V607.5M575.9 544V606.9M576.9 556.8V602.9M577.9 558.2V605M578.9 555.3V609.4M579.9 551.2V608.7M580.9 545.4V596.7M581.9 539.7V589.8M582.9 548.9V591.9M583.9 560.1V589.5M584.9 562V596.3M585.9 549.3V601.5M586.9 543.5V590.3M587.9 550.9V593.2M588.9 560V592.2M589.9 558.7V600.9M590.9 557.5V620.3M591.9 552.8V609.8M592.9 533.7V578.4M593.9 538.7V580.2M594.9 542.4V593.8M595.9 531.1V593.1M596.9 523.7V573.9M597.9 523.2V575.8M598.9 519.3V575.8M599.9 531.4V575.7M600.9 534.6V577.1M601.9 524.7V574M602.9 529.5V566.9M603.9 514.1V561.8M604.9 516.5V567.8M605.9 495.3V568.1M606.9 507.1V567.5M607.9 512.3V565.4M608.9 520.7V571.9M609.9 518.1V580.3M610.9 520.4V580.3M611.9 513.8V568.7M612.9 513.5V570.4M613.9 520.4V585.9M614.9 520.6V582.3M615.9 527.5V583.8M616.9 524.8V586.2M617.9 531.7V573.9M618.9 531.4V581.8M619.9 527.5V581.4M620.9 529V571.5M621.9 522.7V563.7M622.9 520.2V556.8M623.9 514.9V565.2M624.9 510.2V558.7M625.9 507.1V551.4M626.9 514.2V549.1M627.9 516.9V560.8M628.9 508.1V554.2M629.9 510.4V564.8M630.9 510.5V558.3M631.9 516.2V569M632.9 508.4V569.4M633.9 506.9V572.6M634.9 518.4V568.6M635.9 522.3V563.5M636.9 516.8V564.7M637.9 524.8V571.6M638.9 532.9V577.1M639.9 543.1V591M640.9 533.4V586.9M641.9 535.4V579.8M642.9 520.5V571.3M643.9 521.5V565M644.9 520.3V576.4M645.9 516.9V565M646.9 525.1V567.1M647.9 513.8V561.7M648.9 523.3V569.3M649.9 527V575.3M650.9 510.2V547.6M651.9 500.5V554.3M652.9 501.4V564.7M653.9 511.8V563M654.9 507.2V558.9M655.9 508.3V563.8M656.9 491.2V567.3M657.9 480.6V551.2M658.9 464.4V547.1M659.9 482.5V563M660.9 474.8V556.1M661.9 488.4V565.9M662.9 497.6V575.7M663.9 491.1V555.3M664.9 495.6V564.4M665.9 488.8V585.7M666.9 481.3V561.1M667.9 487.7V560.9M668.9 495.9V553.6M669.9 482.2V548.7M670.9 493.8V560.9M671.9 498.3V558.6M672.9 489.5V556.6M673.9 493.2V559.9M674.9 503.7V563.1M675.9 490.6V555.2M676.9 508.8V563M677.9 503.6V561.2M678.9 496V546.9M679.9 494.1V553.8M680.9 501.9V560.2M681.9 491.5V549.4M682.9 490.1V550.2M683.9 493.1V552.7M684.9 487.9V558.4M685.9 506.9V553.9M686.9 508.8V554.8M687.9 508.1V561.9M688.9 508.3V567.6M689.9 519.7V557.4M690.9 510.7V565M691.9 501.8V563.1M692.9 522.2V568.7M693.9 523.8V573.1M694.9 532.5V582.8M695.9 529.7V585M696.9 516.4V573M697.9 508.1V566.4M698.9 511.9V561.9M699.9 504.6V544.4M700.9 509.8V556.5M701.9 499.9V550.4M702.9 507.8V550.2M703.9 497.4V552.9M704.9 491.6V552.2M705.9 507.6V557.7M706.9 505.2V549.1M707.9 484.9V545.8M708.9 523.9V560.2M709.9 522.6V549.3M710.9 526.7V552.8M711.9 522.9V554M712.9 519V555.8M713.9 513.4V550.7M714.9 509.9V542.7M715.9 515V554.3M716.9 515.6V553.4M717.9 504.9V553.4M718.9 510.8V539.1M719.9 498.8V543.7M720.9 502.5V549.6M721.9 498.9V543.5M722.9 500.6V557.1M723.9 480.8V530.9M724.9 508.3V545.3M725.9 512.5V553.4M726.9 515.6V545.4M727.9 507.6V536.2M728.9 511.4V543.8M729.9 498.5V534.1M730.9 497V543.5M731.9 500.3V549.3M732.9 492.5V546.6M733.9 499.1V553.7M734.9 500.2V549.6M735.9 485.4V548.9M736.9 491.3V536.9M737.9 503.7V548.6M738.9 521.2V565M739.9 533.2V567.3M740.9 529.5V566M741.9 542.1V559.9M742.9 542.9V563M743.9 532.7V565.9M744.9 520.4V560.4M745.9 518.4V545.3M746.9 528.8V546M747.9 528.7V557.3M748.9 529.2V549M749.9 528.2V556.2M750.9 530.5V544.6M751.9 529.6V547M752.9 521.8V547M753.9 524.9V547.2M754.9 538.8V561.4M755.9 540.9V570.1M756.9 536.6V564M757.9 550.9V567.2M758.9 538V568.4M759.9 536.3V561.9M760.9 533.8V564.9M761.9 539.7V559.2M762.9 531.5V555.4M763.9 540.6V566.2M764.9 517.9V546.9M765.9 529.8V547.5M766.9 526.1V556.6M767.9 533.4V564.5M768.9 530.5V561.3M769.9 533.4V562.5M770.9 541.6V571.4M771.9 542.9V571.8M772.9 538.1V576.1M773.9 541.7V564.5M774.9 537.5V566.1M775.9 538.8V575.7M776.9 528.7V564.8M777.9 537.1V572.1M778.9 540.3V567.5M779.9 538.4V562M780.9 540V557.3M781.9 527.1V549.2M782.9 538.8V554.3M783.9 535.2V559.1M784.9 532.5V562.9M785.9 534.2V561.9M786.9 511V556.1M787.9 514.8V554.5M788.9 508.5V552.4M789.9 484.9V544.5M790.9 499.3V546.2M791.9 496.5V541M792.9 499V555.1M793.9 510.2V558.6M794.9 512.6V554.7M795.9 520.8V563.2M796.9 528.4V563.5M797.9 524.7V571.8M798.9 524.6V572.4M799.9 527.8V567.5M800.9 530.2V569M801.9 536.6V567.8M802.9 525.2V581.9M803.9 528.1V567.9M804.9 527V567.6M805.9 530.6V592.7M806.9 538.3V584.1M807.9 536.8V587.6M808.9 543V595.3M809.9 548.9V597.2M810.9 555.4V608.3M811.9 548.4V608.2M812.9 544.3V583.5M813.9 534.7V577.5M814.9 545.8V577.6M815.9 532.9V575.7M816.9 526.4V585.2M817.9 526.2V567M818.9 525.1V565M819.9 515.4V554.6M820.9 507.1V565.1M821.9 515.6V558.3M822.9 513.7V556M823.9 518.6V556.3M824.9 524.8V558.8M825.9 531.5V560.4M826.9 524.9V552.4M827.9 517.3V562.8M828.9 514.6V549.2M829.9 522.9V557.5M830.9 510.4V547.4M831.9 504.9V553.3M832.9 528.6V570.6M833.9 522V564.4M834.9 513.4V564.2M835.9 515.7V551.7M836.9 509V552.3M837.9 510.5V544.6M838.9 510.5V556.7M839.9 508.8V542.8M840.9 508.5V541M841.9 508.2V555.6M842.9 519.1V551.6M843.9 517.3V549.1M844.9 527.2V560.7M845.9 506.8V550.9M846.9 486.4V559.3M847.9 513.7V558.5M848.9 502V539.4M849.9 505.5V546.8M850.9 500V534.6M851.9 500V553.3M852.9 498.9V547.3M853.9 492.7V536.7M854.9 487V561.4M855.9 501.1V552.6M856.9 500.9V550.1M857.9 482V547.2M858.9 485.1V554M859.9 493.5V547.3M860.9 496.2V552.3M861.9 500V550.6M862.9 499.2V557.8M863.9 499.2V554.1M864.9 503.9V564.9M865.9 520.5V563M866.9 505.3V570.9M867.9 505.8V559M868.9 500.6V551.6M869.9 503.7V540.4M870.9 492.5V556.4M871.9 513.9V565.8M872.9 506.6V555.2M873.9 518.1V553.3M874.9 511.6V545.9M875.9 505.4V558.5M876.9 520.3V555.5M877.9 520.3V541M878.9 503.4V550M879.9 506.5V552M880.9 515.6V550.2M881.9 507.8V552.4M882.9 505.7V547.2M883.9 508.8V556.7M884.9 504.6V548.4M885.9 499.3V543.6M886.9 489.3V539.6M887.9 490.8V535.3M888.9 480.7V528.7M889.9 487.4V543M890.9 496V544M891.9 497.5V556.1M892.9 508.3V537.3M893.9 500.2V540.8M894.9 492.6V540.7M895.9 478.5V530.8M896.9 494.8V540.3M897.9 489.9V534.8M898.9 487.9V545.2M899.9 496.5V541.3M900.9 490V541M901.9 466.7V530.5M902.9 472.7V514M903.9 485.1V536.7M904.9 479.7V536.5M905.9 488.4V535.3M906.9 498.5V539.9"/>
<path stroke="#0f0" d="M136.9 480.8V539.4M137.9 494V533M138.9 475.5V532.3M139.9 499.1V544.1M140.9 517V557.6M141.9 511.4V558.1M142.9 511.7V560.5M143.9 508V559.1M144.9 491.3V569.7M145.9 510.6V556.6M146.9 513.8V556.3M147.9 515.9V569.1M148.9 521.8V567.7M149.9 514.9V556.5M150.9 510.4V547.7M151.9 501.7V554.5M152.9 499.9V546.4M153.9 520.5V565.3M154.9 518V556.5M155.9 517.8V560M156.9 517.1V567.1M157.9 527.7V570.4M158.9 522.8V585.5M159.9 523.3V580.6M160.9 517.7V578M161.9 510.2V589M162.9 520.7V571.7M163.9 515.2V574.6M164.9 533V582M165.9 527.1V576M166.9 510V587.8M167.9 522.4V565.3M168.9 522.6V585.8M169.9 526.8V582.5M170.9 521.1V570.9M171.9 524.5V568.7M172.9 524.3V573.2M173.9 528.6V574.6M174.9 526.9V567.8M175.9 526.7V580.6M176.9 534V593M177.9 519.7V589M178.9 539.3V574M179.9 526.5V608.8M180.9 532.4V588.2M181.9 511V574.7M182.9 511.6V573.9M183.9 500V569.9M184.9 505V560.4M185.9 502V564.3M186.9 500.3V559.6M187.9 507V567.5M188.9 500.7V564.7M189.9 497V556.6M190.9 502.2V555.5M191.9 491.8V564.5M192.9 501.9V564.2M193.9 499.8V555M194.9 501.1V561.8M195.9 479V550.2M196.9 486.4V550.4M197.9 492.1V550.4M198.9 494.7V557.6M199.9 499.3V545.5M200.9 509.7V553M201.9 492.1V547.4M202.9 496.2V553.9M203.9 505.3V551.6M204.9 510.6V552.4M205.9 514.1V559.3M206.9 511.6V554.7M207.9 504.8V553.2M208.9 505.1V553.4M209.9 509.1V557.2M210.9 512.8V563.2M211.9 498.7V565.6M212.9 498.9V547M213.9 505.6V549.8M214.9 506.2V555.2M215.9 506.6V543.7M216.9 517.3V563.3M217.9 513V557.9M218.9 516.3V564.7M219.9 516.7V557.5M220.9 506.4V558.7M221.9 511.4V550.5M222.9 503.9V549.7M223.9 508.7V555.7M224.9 519.4V558.3M225.9 525V567M226.9 523.4V563.3M227.9 523V563M228.9 526.4V579.3M229.9 515.6V572.6M230.9 515.1V563.2M231.9 510.3V557.2M232.9 509.8V558.6M233.9 508V561.2M234.9 512.7V568.7M235.9 523.3V565.8M236.9 519V568.4M237.9 514.4V560.1M238.9 509.7V550.2M239.9 510.4V556.5M240.9 512.2V554.8M241.9 510.3V560.1M242.9 517.5V574.4M243.9 517.3V564.6M244.9 525.8V573.1M245.9 512.7V559.3M246.9 508.3V572M247.9 499.8V567.1M248.9 510.8V573.4M249.9 527.5V585.2M250.9 524.6V584.4M251.9 542.5V600.3M252.9 534V589.4M253.9 537V589M254.9 532.9V588.3M255.9 542.8V593.1M256.9 531.1V589M257.9 535.6V574.9M258.9 541.6V585M259.9 541.7V583.6M260.9 535.7V588.9M261.9 540.9V590.8M262.9 544.6V585.8M263.9 541.8V591.4M264.9 538.4V587M265.9 529.2V585.8M266.9 516.3V586.3M267.9 530V585.7M268.9 532.9V593.3M269.9 517.6V594.6M270.9 531.5V594.6M271.9 520.8V601.5M272.9 515.3V586.2M273.9 520.4V585M274.9 525.4V589.1M275.9 529.7V618.1M276.9 504.5V579.8M277.9 507.3V573.7M278.9 516.2V578.4M279.9 524V583.9M280.9 515.7V573.9M281.9 505.8V580.9M282.9 518.4V580.5M283.9 529.6V587.5M284.9 538.2V605.7M285.9 533.3V596.6M286.9 542.6V588.2M287.9 486.6V596.6M288.9 499.8V581.6M289.9 521.6V590.7M290.9 529.3V597.2M291.9 533.4V593.3M292.9 537.9V602.2M293.9 536.2V594.2M294.9 530.9V592.9M295.9 537.4V589.3M296.9 542.5V599.6M297.9 543.7V606.2M298.9 538.3V589.2M299.9 549.6V613.4M300.9 541.6V582.3M301.9 538.3V581.8M302.9 528.7V576.5M303.9 506.6V576.2M304.9 544.8V580.5M305.9 545.3V587.9M306.9 546.3V587M307.9 545.5V579.9M308.9 554.3V593.9M309.9 553.5V583.7M310.9 531.3V580.9M311.9 532.3V578.3M312.9 537.9V585.6M313.9 537.8V573.9M314.9 529.2V575.3M315.9 530.7V579.7M316.9 544.9V583.7M317.9 530.4V586.7M318.9 542.8V584.2M319.9 530.8V576.6M320.9 517.4V569.1M321.9 521.8V568.2M322.9 524.3V567.9M323.9 532.1V574.5M324.9 538.8V577M325.9 523.1V584.9M326.9 535V590.7M327.9 533.1V584.1M328.9 532.5V583.3M329.9 526.8V582.7M330.9 522.6V586.7M331.9 532.2V584.4M332.9 530.2V592.5M333.9 523V594M334.9 527.2V589.1M335.9 506.9V583.1M336.9 518.1V587.5M337.9 524V587.5M338.9 524.1V593.8M339.9 534.3V596.3M340.9 528.7V603M341.9 532.9V593M342.9 534.7V623.3M343.9 520.9V594M344.9 527.7V607M345.9 525.6V608.9M346.9 514.2V587M347.9 525.7V586.9M348.9 538.2V600.4M349.9 538.9V600.1M350.9 543.6V606.9M351.9 552.8V597.1M352.9 549V597.5M353.9 545.9V598.6M354.9 548.5V594.8M355.9 553.3V602.9M356.9 549.7V609.5M357.9 557.3V611.4M358.9 551.4V604.8M359.9 556.1V606.4M360.9 567V629.6M361.9 569.2V621.2M362.9 559.6V607.4M363.9 553.8V615.3M364.9 558.3V602.9M365.9 547.3V595M366.9 559.7V595.4M367.9 540.1V589.2M368.9 552.9V598.5M369.9 558.9V603.1M370.9 565.7V605.5M371.9 564.2V614.7M372.9 559.5V616.3M373.9 549.9V611.2M374.9 553.6V613.9M375.9 549.9V627.4M376.9 556.4V612.6M377.9 548.6V617M378.9 542.5V610.2M379.9 552.2V607.2M380.9 556.1V606.9M381.9 553.9V615.1M382.9 544.8V601.3M383.9 541.9V595.8M384.9 553V596.7M385.9 528.9V605.1M386.9 543.7V591.8M387.9 549.7V592.3M388.9 549.1V610.3M389.9 544.5V605.7M390.9 553.9V607.6M391.9 555.5V600.6M392.9 555.9V606.5M393.9 552.9V614M394.9 551.2V619.3M395.9 555.4V609.3M396.9 556.6V609.2M397.9 552V609M398.9 552.4V607.9M399.9 560V617M400.9 570.4V618.3M401.9 582.4V610.1M402.9 561.3V618.3M403.9 560.8V606.6M404.9 560.2V595.4M405.9 564.3V602.3M406.9 562.2V608M407.9 552.5V595.7M408.9 554V601.2M409.9 567.8V595.6M410.9 558.2V602.5M411.9 560.6V602.6M412.9 568.7V596.9M413.9 560.2V595.9M414.9 558.5V585.5M415.9 562.2V603.3M416.9 559.1V613.6M417.9 565.9V613.6M418.9 562.2V596.6M419.9 558.9V598.4M420.9 555.5V597.1M421.9 556.9V594.2M422.9 555V602.2M423.9 558.8V595.8M424.9 558.3V594.7M425.9 555.6V593.1M426.9 553.2V608.1M427.9 548.9V588.4M428.9 550.8V590.4M429.9 555.9V597.5M430.9 559V603M431.9 567V611.9M432.9 560.6V589.6M433.9 566.3V596.1M434.9 563.4V601.4M435.9 559.6V602.8M436.9 580.2V602.8M437.9 565.4V596.1M438.9 564.7V620.8M439.9 563.8V615.8M440.9 572.6V620.7M441.9 553.5V621.2M442.9 573.2V616.9M443.9 579.4V632M444.9 566.4V614.5M445.9 561.9V610.6M446.9 548.2V617.3M447.9 565.1V614.2M448.9 568.5V611.4M449.9 565.4V613M450.9 563.5V610M451.9 575.1V620.6M452.9 566.2V613.2M453.9 581.6V613.9M454.9 574.8V614.4M455.9 575.7V619.7M456.9 563.7V601.6M457.9 566.7V605.6M458.9 569.4V617.6M459.9 559.9V611.2M460.9 577.9V609.7M461.9 588.7V642.8M462.9 577.7V631M463.9 583.4V632.4M464.9 578.9V633.9M465.9 571.6V613.2M466.9 578V620.7M467.9 568.4V611M468.9 561V600.8M469.9 555.7V594.3M470.9 552V601.6M471.9 573.2V607.3M472.9 577.5V609.9M473.9 564.6V613M474.9 569.9V621.6M475.9 581.7V625.9M476.9 580.3V619M477.9 557.5V627.9M478.9 586.8V629.3M479.9 586.5V629.9M480.9 582.1V637.9M481.9 583.5V634.3M482.9 579.4V634.4M483.9 565.2V625.1M484.9 553V615.7M485.9 565.6V624.3M486.9 566.5V621.7M487.9 560V621.4M488.9 565.4V627.7M489.9 552.6V630.9M490.9 565.8V635.1M491.9 560.1V634.2M492.9 565.5V640.4M493.9 566.6V644.6M494.9 568.2V636.3M495.9 562.2V626.1M496.9 568.1V620.6M497.9 559.5V621.8M498.9 560.6V620.6M499.9 563V624.7M500.9 556.1V612.5M501.9 557.3V613.5M502.9 552.2V603.7M503.9 553.6V606.9M504.9 557.8V609.9M505.9 567.1V614.7M506.9 561.2V635.9M507.9 562.3V620.6M508.9 565.4V623.5M509.9 566.6V618.2M510.9 566.2V618.8M511.9 565.9V625.9M512.9 559V616.1M513.9 564.4V623M514.9 564.4V628.2M515.9 559.7V625.8M516.9 554.5V639.3M517.9 563.8V634.1M518.9 563.2V630.8M519.9 550.7V621M520.9 561V626.7M521.9 569.1V622.8M522.9 559.7V614.9M523.9 552.6V606.1M524.9 553.4V623.4M525.9 573.7V629.3M526.9 552.1V614M527.9 558.5V606.8M528.9 554.3V624.6M529.9 563V620.1M530.9 563.3V625.9M531.9 572.4V630M532.9 557.6V626.4M533.9 556.7V630M534.9 554.5V618M535.9 560.5V613.9M536.9 552.4V613.9M537.9 555.8V626.7M538.9 548V613.5M539.9 549.2V604.7M540.9 546.9V604.7M541.9 550.6V607.9M542.9 550.4V613.8M543.9 541.8V599.6M544.9 552.8V608.2M545.9 553.7V596.5M546.9 558.3V602.8M547.9 552.7V606.5M548.9 545.1V595.7M549.9 546.1V591.8M550.9 550.6V597.8M551.9 561.1V592.8M552.9 559.5V601.9M553.9 562.8V606.3M554.9 546.6V594.8M555.9 556.7V597.3M556.9 560.9V607.1M557.9 556.9V599.5M558.9 553.5V604.5M559.9 537.6V594.7M560.9 541.1V578.4M561.9 533.3V591.6M562.9 526.5V591.7M563.9 548.8V601.7M564.9 558.1V605.3M565.9 557.6V606.6M566.9 568.2V629.7M567.9 564.3V624.7M568.9 566.4V639.8M569.9 567.7V626.1M570.9 562.5V622.8M571.9 552.6V611.6M572.9 541.5V604.3M573.9 535V604.9M574.9 530.2V597.7M575.9 538.2V602.4M576.9 556V603.5M577.9 543.7V610.6M578.9 540.3V598.5M579.9 534.2V591.7M580.9 542.2V600.8M581.9 538V595.2M582.9 550.9V602.8M583.9 551.5V600.2M584.9 535.9V603.3M585.9 541.3V605.3M586.9 548V591.8M587.9 550.6V594.8M588.9 557V598.3M589.9 546.5V599.4M590.9 540.8V593.3M591.9 556V604.8M592.9 557.9V605.3M593.9 559.2V601.6M594.9 557.1V608M595.9 552.6V608.3M596.9 555.2V611.4M597.9 556.9V608.2M598.9 536.7V602M599.9 557.1V612.7M600.9 559V618.9M601.9 550.5V610.2M602.9 558.2V615M603.9 554.5V613.3M604.9 557.6V624.3M605.9 555.1V611.8M606.9 557.1V612.7M607.9 557V618.1M608.9 562.7V612.7M609.9 543.7V605.6M610.9 545.1V615.7M611.9 546.1V612M612.9 551.4V610M613.9 555.6V614.5M614.9 562.3V619.5M615.9 568.7V623.5M616.9 570.6V619.4M617.9 569V615.5M618.9 573V623.6M619.9 584.9V633.7M620.9 572.4V620.8M621.9 577.4V632.4M622.9 579.6V623.8M623.9 571.4V615M624.9 570.5V611M625.9 559.8V612.7M626.9 567V608.3M627.9 567V614.1M628.9 565.6V615.9M629.9 572.1V617.5M630.9 562V600.8M631.9 566.9V605.5M632.9 557V618M633.9 553.1V594.4M634.9 568.4V602.2M635.9 555.3V591.8M636.9 557.6V581.1M637.9 546.2V586.4M638.9 539.3V575.4M639.9 551.2V582.5M640.9 537.9V579.2M641.9 541.8V583.2M642.9 547V583.8M643.9 546.2V600.2M644.9 550.6V600.2M645.9 550V585.7M646.9 555.4V595.1M647.9 554.2V585.2M648.9 553V591.3M649.9 544.7V588.1M650.9 550.5V578.6M651.9 547.7V583.5M652.9 537.4V594M653.9 525.6V591.3M654.9 545.3V585.7M655.9 529.8V592.7M656.9 543.5V593M657.9 535.7V599.5M658.9 535.2V587.1M659.9 552.2V590M660.9 544.1V589.9M661.9 543.4V590.2M662.9 541.2V582.8M663.9 535.8V573.3M664.9 541.8V576.3M665.9 536.7V577.3M666.9 545.1V568.6M667.9 541.2V574.3M668.9 544.2V582.7M669.9 533.5V583.7M670.9 535.5V589.8M671.9 539.8V588.6M672.9 537.9V588.4M673.9 531.6V577.7M674.9 508.6V568.2M675.9 536.3V583.7M676.9 546.6V589.8M677.9 533.7V587.2M678.9 520.2V577.3M679.9 539.7V584.2M680.9 538.2V604.3M681.9 535.3V584.3M682.9 538.1V579.3M683.9 543.4V588.6M684.9 542.6V593.6M685.9 540.4V588.2M686.9 545.2V575M687.9 546.9V586M688.9 556.3V594.1M689.9 550.5V595.5M690.9 545.1V602.9M691.9 561.5V604.4M692.9 562.9V608.2M693.9 577.9V622.5M694.9 564V627.6M695.9 564V621.3M696.9 549.3V604.9M697.9 542.8V613.6M698.9 534.1V608.6M699.9 553.4V622.7M700.9 551.7V612.4M701.9 546.6V609.2M702.9 553.2V605.3M703.9 555.8V619.1M704.9 565.9V616.8M705.9 557.7V618.8M706.9 563.6V614.8M707.9 562.2V615.9M708.9 563.6V621.9M709.9 574.4V625.4M710.9 579.9V622.7M711.9 572.3V626.4M712.9 551.5V601.5M713.9 561.4V611M714.9 576V626.3M715.9 563.4V611.2M716.9 565.1V605M717.9 564.5V601.8M718.9 569.3V610M719.9 569.4V630.5M720.9 577.7V613.5M721.9 563.5V609M722.9 568.2V604.2M723.9 575.5V600M724.9 577.2V611.4M725.9 572.6V614.2M726.9 572.6V610.2M727.9 583.3V614.8M728.9 576.7V625.8M729.9 569.7V620.9M730.9 579.7V625.1M731.9 573.7V626.6M732.9 569.5V646M733.9 579.9V638.6M734.9 571.5V640M735.9 570.5V627.7M736.9 570.7V635.9M737.9 565.7V637.2M738.9 553.8V622.4M739.9 549V612.2M740.9 560.1V613.7M741.9 553.8V613.6M742.9 573.2V615.7M743.9 554.9V626.3M744.9 569.4V606.7M745.9 564.6V605.3M746.9 567.4V615.9M747.9 564.5V603.8M748.9 562.9V598.8M749.9 563.9V611.5M750.9 569.2V606.4M751.9 567.4V608.9M752.9 569.4V614.4M753.9 576.6V619.5M754.9 577.6V616.4M755.9 576.8V613.3M756.9 580.3V633.9M757.9 560V621.3M758.9 566.3V613.6M759.9 565V600.3M760.9 553V591.7M761.9 550.5V588.9M762.9 551.2V598.1M763.9 565.2V599.9M764.9 568.2V608.7M765.9 561V615.4M766.9 564V600.1M767.9 552.6V610.4M768.9 563V609.3M769.9 572.2V609.8M770.9 576.6V621.1M771.9 577.8V612.6M772.9 575.3V619.7M773.9 575.6V618.5M774.9 575.1V621.6M775.9 566.6V616.8M776.9 570.5V625.3M777.9 561.1V623.2M778.9 559.4V621.9M779.9 561.2V616.3M780.9 556.5V636.2M781.9 530.9V621.7M782.9 551.6V615.2M783.9 558.8V625.9M784.9 574V620.6M785.9 557.1V611M786.9 554.2V610.9M787.9 567.5V621.1M788.9 550.6V619.6M789.9 574.3V618.2M790.9 566.1V621.3M791.9 558.1V620.1M792.9 576.7V619.7M793.9 582V623.8M794.9 585.5V639M795.9 576.4V647.6M796.9 576.9V631.5M797.9 582V627M798.9 588.5V639M799.9 592.8V628.9M800.9 577.5V629.6M801.9 589.2V643.7M802.9 586.6V641.5M803.9 581.8V650.3M804.9 583.4V631.5M805.9 591V635.9M806.9 585.3V630M807.9 582.1V640.8M808.9 585.2V628.2M809.9 594.5V644.9M810.9 582.2V646.6M811.9 579.4V642.9M812.9 588.8V625.5M813.9 569.5V616.5M814.9 549.7V608M815.9 560.2V606.2M816.9 551.8V631.1M817.9 562.8V630M818.9 562.7V610.3M819.9 555.9V604.5M820.9 561.1V612.4M821.9 558.7V615.4M822.9 552.2V628.4M823.9 550.5V604.1M824.9 546.9V606.5M825.9 556.5V622.6M826.9 555.6V611.1M827.9 552.7V624.6M828.9 549.2V609.2M829.9 536.2V619.4M830.9 556.5V609M831.9 532.4V594M832.9 558.2V605.6M833.9 553.4V600.4M834.9 563.6V609.7M835.9 551.2V605.8M836.9 557V598.3M837.9 538.7V591.7M838.9 542.6V592.1M839.9 563.5V609.2M840.9 565.9V605.3M841.9 562V616.8M842.9 555.7V602.3M843.9 546.5V607.7M844.9 572.2V610.7M845.9 548.3V612.9M846.9 567V608M847.9 573.6V631.6M848.9 570.4V632.7M849.9 569.9V621.1M850.9 564.7V619.2M851.9 560.9V621.8M852.9 573.3V631.3M853.9 569.1V633.6M854.9 560.4V624.3M855.9 562.1V617.8M856.9 566V615.1M857.9 562.9V607.8M858.9 570.8V620.1M859.9 559.2V619.6M860.9 567V618.1M861.9 571.9V616M862.9 563.4V610.9M863.9 567.1V618.5M864.9 573.1V627.3M865.9 572.5V624.1M866.9 569.2V630.3M867.9 560V629.9M868.9 563.6V640.2M869.9 550.5V619.1M870.9 562.6V628.5M871.9 574.5V630.7M872.9 567.3V624.1M873.9 564.1V623.3M874.9 573.7V624.2M875.9 566.1V619.3M876.9 561V614.1M877.9 561.8V616.7M878.9 578.7V619.4M879.9 585.7V621.3M880.9 578.6V624.2M881.9 563.1V617M882.9 567.9V607.9M883.9 566.7V610.6M884.9 569.1V611.1M885.9 568.5V609.5M886.9 562.8V613.5M887.9 564V606.6M888.9 567.3V602.9M889.9 558.6V613.5M890.9 570.9V624.5M891.9 564V623.8M892.9 570.6V615.4M893.9 572.5V627.5M894.9 568.6V631.8M895.9 567.7V628.9M896.9 571.8V620.4M897.9 568.3V627.6M898.9 575.1V623.6M899.9 572.1V612.6M900.9 547.1V617.3M901.9 557.8V609M902.9 569.4V614.9M903.9 558.2V621.6M904.9 524.6V619.1M905.9 567.2V631.4M906.9 570.8V628.5"/>
</g>
<path fill="none" stroke="#8a5a00" stroke-width="0.9" d="M144.3 510v10.5M145.3 531.8v14.2M148.3 520.9v11.1M160.3 526.2v15.3M167.3 554.9v11.1M170.3 540.2v13.9M177.3 545v8.9M180.3 556.1v7.1M193.3 543.5v8.8M199.3 525.1v4.2M200.3 509.2v15.6M205.3 534.9v15.4M264.3 565.6v10.9M281.3 545.3v11.3M283.3 546.4v11.8M291.3 573.7v7.6M292.3 560.7v7.1M297.3 547.6v13.1M308.3 562.7v10M329.3 565.8v10.5M330.3 554.9v5.5M331.3 564.8v7.4M333.3 578.5v4.2M345.3 565.2v15.7M347.3 559.6v13.9M367.3 578.4v10.4M368.3 571.2v12.9M369.3 585.1v11.8M370.3 579.6v4.8M374.3 585.8v6.9M378.3 561.6v12.4M381.3 578.6v4.4M384.3 567.6v15.6M394.3 578.5v5M403.3 580.6v12.9M407.3 574.7v8.8M420.3 572.9v10.6M432.3 572.7v9.3M445.3 578.8v15.3M460.3 586.7v14.7M463.3 607.7v13.5M466.3 599.9v4.4M468.3 586.3v10.9M474.3 590.6v6.7M476.3 582.7v12.6M477.3 588.6v8.6M479.3 588.1v12.4M491.3 576.6v8.6M520.3 564v7M522.3 575.9v12.6M535.3 569.8v8.2M548.3 562.5v12.9M556.3 572.9v8.2M567.3 578.7v8.9M570.3 569.6v7.4M571.3 574.3v9.9M585.3 573.9v10M586.3 575.3v13M587.3 555.3v4.7M588.3 557.8v12.3M608.3 558v6.4M655.3 549v8.4M656.3 539.3v13M669.3 545.2v7.4M678.3 535.1v13.1M681.3 547.7v8.1M690.3 551.5v4.9M779.3 560.4v6.1M825.3 547.9v9.9"/>
<path fill="none" stroke="#0a6a0a" stroke-width="0.9" d="M167.3 527.7v6.4M168.3 529.2v6.6M185.3 530.3v4.8M202.3 513v7.4M210.3 542.6v7.4M216.3 509.4v15.5M219.3 531.6v11.7M245.3 553.9v11.6M310.3 559.3v13.7M312.3 547.8v13.8M333.3 541.8v4.4M360.3 564.2v6.4M367.3 563.3v10.7M376.3 552.4v9.8M478.3 604.7v10.1M492.3 581.8v10.6M510.3 585.3v10.9M524.3 565.3v12.7M537.3 566v9.4M562.3 562.5v14.4M594.3 570.8v15.8M599.3 539.8v14M604.3 559.2v10.3M606.3 557.9v9.5M614.3 572.2v10.2M628.3 569.9v4.9M663.3 555.6v5.9M707.3 564.8v9.1M821.3 562.1v7.1M878.3 568.5v6.1"/>
<g fill="#000">
<rect x="125.0" y="14.4" width="6.3" height="282.4"/>
<rect x="125.0" y="290.4" width="780.3" height="6.4"/>
<rect x="125.0" y="14.4" width="22.5" height="6.2"/>
<rect x="125.0" y="48.9" width="15.2" height="6.2"/>
<rect x="125.0" y="83.4" width="22.5" height="6.2"/>
<rect x="125.0" y="117.9" width="15.2" height="6.2"/>
<rect x="125.0" y="152.4" width="22.5" height="6.2"/>
<rect x="125.0" y="186.9" width="15.2" height="6.2"/>
<rect x="125.0" y="221.4" width="22.5" height="6.2"/>
<rect x="125.0" y="255.9" width="15.2" height="6.2"/>
<rect x="125.0" y="290.4" width="22.5" height="6.2"/>
<rect x="125.6" y="274.1" width="6.0" height="22.7"/>
<rect x="222.3" y="282.1" width="6.0" height="14.7"/>
<rect x="319.0" y="274.1" width="6.0" height="22.7"/>
<rect x="415.7" y="282.1" width="6.0" height="14.7"/>
<rect x="512.4" y="274.1" width="6.0" height="22.7"/>
<rect x="609.0" y="282.1" width="6.0" height="14.7"/>
<rect x="705.7" y="274.1" width="6.0" height="22.7"/>
<rect x="802.4" y="282.1" width="6.0" height="14.7"/>
<rect x="899.1" y="274.1" width="6.0" height="22.7"/>
<rect x="129.8" y="427.4" width="6.3" height="281.9"/>
<rect x="129.8" y="702.9" width="780.2" height="6.4"/>
<rect x="129.8" y="427.4" width="22.5" height="6.2"/>
<rect x="129.8" y="461.8" width="15.2" height="6.2"/>
<rect x="129.8" y="496.3" width="22.5" height="6.2"/>
<rect x="129.8" y="530.7" width="15.2" height="6.2"/>
<rect x="129.8" y="565.1" width="22.5" height="6.2"/>
<rect x="129.8" y="599.6" width="15.2" height="6.2"/>
<rect x="129.8" y="634.0" width="22.5" height="6.2"/>
<rect x="129.8" y="668.5" width="15.2" height="6.2"/>
<rect x="129.8" y="702.9" width="22.5" height="6.2"/>
<rect x="130.4" y="686.6" width="6.0" height="22.7"/>
<rect x="227.1" y="694.6" width="6.0" height="14.7"/>
<rect x="323.8" y="686.6" width="6.0" height="22.7"/>
<rect x="420.4" y="694.6" width="6.0" height="14.7"/>
<rect x="517.1" y="686.6" width="6.0" height="22.7"/>
<rect x="613.8" y="694.6" width="6.0" height="14.7"/>
<rect x="710.4" y="686.6" width="6.0" height="22.7"/>
<rect x="807.1" y="694.6" width="6.0" height="14.7"/>
<rect x="903.8" y="686.6" width="6.0" height="22.7"/>
</g>
<g stroke-width="5" fill="none">
<path stroke="#000" d="M321.9 28.6H387.8"/>
<path stroke="#f00" d="M320.3 57.7H386.5"/>
<path stroke="#0f0" d="M321.9 84.9H387.8"/>
</g>
<g font-family="Liberation Sans, sans-serif" font-size="27.3" fill="#000">
<text x="399.3" y="34">BTK</text>
<text x="399.3" y="67.1">BTK-Eltrombopag</text>
<text x="398.3" y="96.6">BTK-Alectinib</text>
</g>
<g font-family="Liberation Sans, sans-serif" font-weight="bold" fill="#000">
<text x="10.3" y="31.8" font-size="42.5">A</text>
<text x="10.6" y="439.7" font-size="42">B</text>
<g font-size="37.4" text-anchor="end">
<text x="120.4" y="29.6">2</text>
<text x="120.4" y="98.6">1.95</text>
<text x="120.4" y="167.6">1.9</text>
<text x="120.4" y="236.6">1.85</text>
<text x="120.4" y="305.6">1.8</text>
<text x="125.8" y="442.5">160</text>
<text x="125.8" y="511.4">150</text>
<text x="125.8" y="580.2">140</text>
<text x="125.8" y="649.1">130</text>
<text x="125.8" y="718.0">120</text>
</g>
<g font-size="37.3" text-anchor="middle">
<text x="128.6" y="327.8">0</text>
<text x="322.0" y="327.8">50000</text>
<text x="515.4" y="327.8">100000</text>
<text x="708.7" y="327.8">150000</text>
<text x="902.1" y="327.8">200000</text>
<text x="133.4" y="740.2">0</text>
<text x="326.8" y="740.2">50</text>
<text x="520.1" y="740.2">100</text>
<text x="713.4" y="740.2">150</text>
<text x="906.8" y="740.2">200</text>
</g>
<g font-size="37.8" text-anchor="middle">
<text x="515.4" y="363.3">Time (ps)</text>
<text x="520.0" y="775.6">Time (ns)</text>
</g>
<g text-anchor="middle">
<text font-size="38.5" transform="translate(30.3 154.7) rotate(-90)">Rg (nm)</text>
<text font-size="37.2" transform="translate(47.4 564.2) rotate(-90)">SASA (nm<tspan font-size="25" dy="-22.5">2</tspan><tspan dy="22.5">)</tspan></text>
</g>
</g>
</svg>
</body></html>
